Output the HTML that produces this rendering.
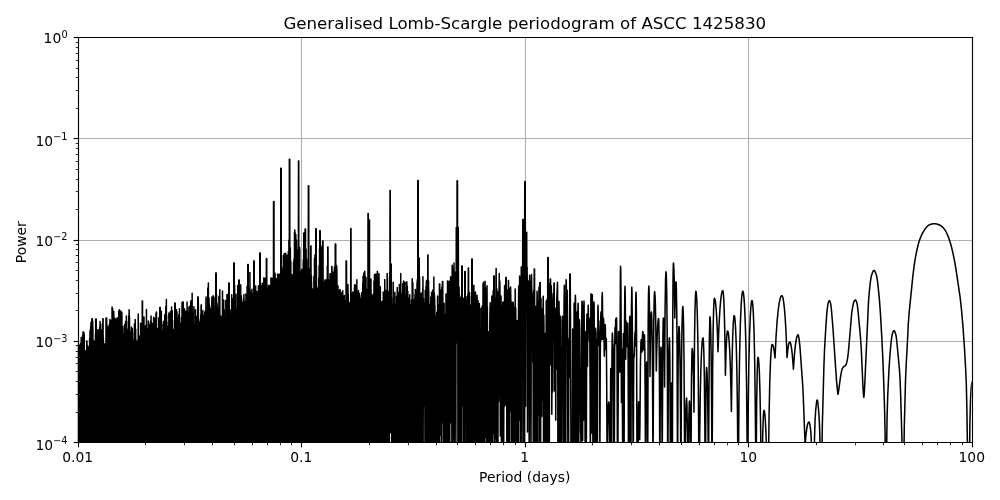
<!DOCTYPE html>
<html lang="en"><head><meta charset="utf-8"><title>Generalised Lomb-Scargle periodogram of ASCC 1425830</title>
<style>html,body{margin:0;padding:0;background:#fff;overflow:hidden}svg{display:block;font-family:"DejaVu Sans","Liberation Sans",sans-serif}</style></head>
<body>
<svg width="1000" height="500" viewBox="0 0 720 360" version="1.1">
 <defs>
  <style type="text/css">*{stroke-linejoin: round; stroke-linecap: butt}</style>
 </defs>
 <g id="figure_1">
  <g id="patch_1">
   <path d="M 0 360  L 720 360  L 720 0  L 0 0  z
" style="fill: #ffffff"/>
  </g>
  <g id="axes_1">
   <g id="patch_2">
    <path d="M 55.98 318.31  L 699.66 318.31  L 699.66 26.71  L 55.98 26.71  z
" style="fill: #ffffff"/>
   </g>
   <g id="matplotlib.axis_1">
    <g id="xtick_1">
     <g id="line2d_1">
      <path d="M 56.52 318.6  L 56.52 27 
" clip-path="url(#pcf3aa3bda9)" style="fill: none; stroke: #b0b0b0; stroke-width: 0.8; stroke-linecap: square"/>
     </g>
     <g id="line2d_2">
      <defs>
       <path id="m2a72259cfb" d="M 0 0  L 0 3.5 
" style="stroke: #000000; stroke-width: 0.8"/>
      </defs>
      <g>
       <use href="#m2a72259cfb" x="56.5200" y="318.6000" style="stroke: #000000; stroke-width: 0.8"/>
      </g>
     </g>
     <g id="text_1">
      <text style="font-size: 10px; font-family: 'DejaVu Sans', 'Liberation Sans', sans-serif; text-anchor: middle" x="55.98" y="332.910438">0.01</text>
     </g>
    </g>
    <g id="xtick_2">
     <g id="line2d_3">
      <path d="M 217.08 318.6  L 217.08 27 
" clip-path="url(#pcf3aa3bda9)" style="fill: none; stroke: #b0b0b0; stroke-width: 0.8; stroke-linecap: square"/>
     </g>
     <g id="line2d_4">
      <g>
       <use href="#m2a72259cfb" x="217.0800" y="318.6000" style="stroke: #000000; stroke-width: 0.8"/>
      </g>
     </g>
     <g id="text_2">
      <text style="font-size: 10px; font-family: 'DejaVu Sans', 'Liberation Sans', sans-serif; text-anchor: middle" x="216.9" y="332.910438">0.1</text>
     </g>
    </g>
    <g id="xtick_3">
     <g id="line2d_5">
      <path d="M 378.36 318.6  L 378.36 27 
" clip-path="url(#pcf3aa3bda9)" style="fill: none; stroke: #b0b0b0; stroke-width: 0.8; stroke-linecap: square"/>
     </g>
     <g id="line2d_6">
      <g>
       <use href="#m2a72259cfb" x="378.3600" y="318.6000" style="stroke: #000000; stroke-width: 0.8"/>
      </g>
     </g>
     <g id="text_3">
      <text style="font-size: 10px; font-family: 'DejaVu Sans', 'Liberation Sans', sans-serif; text-anchor: middle" x="377.82" y="332.910438">1</text>
     </g>
    </g>
    <g id="xtick_4">
     <g id="line2d_7">
      <path d="M 538.92 318.6  L 538.92 27 
" clip-path="url(#pcf3aa3bda9)" style="fill: none; stroke: #b0b0b0; stroke-width: 0.8; stroke-linecap: square"/>
     </g>
     <g id="line2d_8">
      <g>
       <use href="#m2a72259cfb" x="538.9200" y="318.6000" style="stroke: #000000; stroke-width: 0.8"/>
      </g>
     </g>
     <g id="text_4">
      <text style="font-size: 10px; font-family: 'DejaVu Sans', 'Liberation Sans', sans-serif; text-anchor: middle" x="538.74" y="332.910438">10</text>
     </g>
    </g>
    <g id="xtick_5">
     <g id="line2d_9">
      <path d="M 700.2 318.6  L 700.2 27 
" clip-path="url(#pcf3aa3bda9)" style="fill: none; stroke: #b0b0b0; stroke-width: 0.8; stroke-linecap: square"/>
     </g>
     <g id="line2d_10">
      <g>
       <use href="#m2a72259cfb" x="700.2000" y="318.6000" style="stroke: #000000; stroke-width: 0.8"/>
      </g>
     </g>
     <g id="text_5">
      <text style="font-size: 10px; font-family: 'DejaVu Sans', 'Liberation Sans', sans-serif; text-anchor: middle" x="699.66" y="332.910438">100</text>
     </g>
    </g>
    <g id="xtick_6">
     <g id="line2d_11">
      <defs>
       <path id="mbe10bcd216" d="M 0 0  L 0 2 
" style="stroke: #000000; stroke-width: 0.6"/>
      </defs>
      <g>
       <use href="#mbe10bcd216" x="104.7600" y="318.6000" style="stroke: #000000; stroke-width: 0.6"/>
      </g>
     </g>
    </g>
    <g id="xtick_7">
     <g id="line2d_12">
      <g>
       <use href="#mbe10bcd216" x="132.8400" y="318.6000" style="stroke: #000000; stroke-width: 0.6"/>
      </g>
     </g>
    </g>
    <g id="xtick_8">
     <g id="line2d_13">
      <g>
       <use href="#mbe10bcd216" x="153.0000" y="318.6000" style="stroke: #000000; stroke-width: 0.6"/>
      </g>
     </g>
    </g>
    <g id="xtick_9">
     <g id="line2d_14">
      <g>
       <use href="#mbe10bcd216" x="168.8400" y="318.6000" style="stroke: #000000; stroke-width: 0.6"/>
      </g>
     </g>
    </g>
    <g id="xtick_10">
     <g id="line2d_15">
      <g>
       <use href="#mbe10bcd216" x="181.8000" y="318.6000" style="stroke: #000000; stroke-width: 0.6"/>
      </g>
     </g>
    </g>
    <g id="xtick_11">
     <g id="line2d_16">
      <g>
       <use href="#mbe10bcd216" x="192.6000" y="318.6000" style="stroke: #000000; stroke-width: 0.6"/>
      </g>
     </g>
    </g>
    <g id="xtick_12">
     <g id="line2d_17">
      <g>
       <use href="#mbe10bcd216" x="201.9600" y="318.6000" style="stroke: #000000; stroke-width: 0.6"/>
      </g>
     </g>
    </g>
    <g id="xtick_13">
     <g id="line2d_18">
      <g>
       <use href="#mbe10bcd216" x="209.8800" y="318.6000" style="stroke: #000000; stroke-width: 0.6"/>
      </g>
     </g>
    </g>
    <g id="xtick_14">
     <g id="line2d_19">
      <g>
       <use href="#mbe10bcd216" x="266.0400" y="318.6000" style="stroke: #000000; stroke-width: 0.6"/>
      </g>
     </g>
    </g>
    <g id="xtick_15">
     <g id="line2d_20">
      <g>
       <use href="#mbe10bcd216" x="294.1200" y="318.6000" style="stroke: #000000; stroke-width: 0.6"/>
      </g>
     </g>
    </g>
    <g id="xtick_16">
     <g id="line2d_21">
      <g>
       <use href="#mbe10bcd216" x="314.2800" y="318.6000" style="stroke: #000000; stroke-width: 0.6"/>
      </g>
     </g>
    </g>
    <g id="xtick_17">
     <g id="line2d_22">
      <g>
       <use href="#mbe10bcd216" x="329.4000" y="318.6000" style="stroke: #000000; stroke-width: 0.6"/>
      </g>
     </g>
    </g>
    <g id="xtick_18">
     <g id="line2d_23">
      <g>
       <use href="#mbe10bcd216" x="342.3600" y="318.6000" style="stroke: #000000; stroke-width: 0.6"/>
      </g>
     </g>
    </g>
    <g id="xtick_19">
     <g id="line2d_24">
      <g>
       <use href="#mbe10bcd216" x="353.1600" y="318.6000" style="stroke: #000000; stroke-width: 0.6"/>
      </g>
     </g>
    </g>
    <g id="xtick_20">
     <g id="line2d_25">
      <g>
       <use href="#mbe10bcd216" x="362.5200" y="318.6000" style="stroke: #000000; stroke-width: 0.6"/>
      </g>
     </g>
    </g>
    <g id="xtick_21">
     <g id="line2d_26">
      <g>
       <use href="#mbe10bcd216" x="371.1600" y="318.6000" style="stroke: #000000; stroke-width: 0.6"/>
      </g>
     </g>
    </g>
    <g id="xtick_22">
     <g id="line2d_27">
      <g>
       <use href="#mbe10bcd216" x="426.6000" y="318.6000" style="stroke: #000000; stroke-width: 0.6"/>
      </g>
     </g>
    </g>
    <g id="xtick_23">
     <g id="line2d_28">
      <g>
       <use href="#mbe10bcd216" x="454.6800" y="318.6000" style="stroke: #000000; stroke-width: 0.6"/>
      </g>
     </g>
    </g>
    <g id="xtick_24">
     <g id="line2d_29">
      <g>
       <use href="#mbe10bcd216" x="474.8400" y="318.6000" style="stroke: #000000; stroke-width: 0.6"/>
      </g>
     </g>
    </g>
    <g id="xtick_25">
     <g id="line2d_30">
      <g>
       <use href="#mbe10bcd216" x="490.6800" y="318.6000" style="stroke: #000000; stroke-width: 0.6"/>
      </g>
     </g>
    </g>
    <g id="xtick_26">
     <g id="line2d_31">
      <g>
       <use href="#mbe10bcd216" x="503.6400" y="318.6000" style="stroke: #000000; stroke-width: 0.6"/>
      </g>
     </g>
    </g>
    <g id="xtick_27">
     <g id="line2d_32">
      <g>
       <use href="#mbe10bcd216" x="514.4400" y="318.6000" style="stroke: #000000; stroke-width: 0.6"/>
      </g>
     </g>
    </g>
    <g id="xtick_28">
     <g id="line2d_33">
      <g>
       <use href="#mbe10bcd216" x="523.8000" y="318.6000" style="stroke: #000000; stroke-width: 0.6"/>
      </g>
     </g>
    </g>
    <g id="xtick_29">
     <g id="line2d_34">
      <g>
       <use href="#mbe10bcd216" x="531.7200" y="318.6000" style="stroke: #000000; stroke-width: 0.6"/>
      </g>
     </g>
    </g>
    <g id="xtick_30">
     <g id="line2d_35">
      <g>
       <use href="#mbe10bcd216" x="587.8800" y="318.6000" style="stroke: #000000; stroke-width: 0.6"/>
      </g>
     </g>
    </g>
    <g id="xtick_31">
     <g id="line2d_36">
      <g>
       <use href="#mbe10bcd216" x="615.9600" y="318.6000" style="stroke: #000000; stroke-width: 0.6"/>
      </g>
     </g>
    </g>
    <g id="xtick_32">
     <g id="line2d_37">
      <g>
       <use href="#mbe10bcd216" x="636.1200" y="318.6000" style="stroke: #000000; stroke-width: 0.6"/>
      </g>
     </g>
    </g>
    <g id="xtick_33">
     <g id="line2d_38">
      <g>
       <use href="#mbe10bcd216" x="651.2400" y="318.6000" style="stroke: #000000; stroke-width: 0.6"/>
      </g>
     </g>
    </g>
    <g id="xtick_34">
     <g id="line2d_39">
      <g>
       <use href="#mbe10bcd216" x="664.2000" y="318.6000" style="stroke: #000000; stroke-width: 0.6"/>
      </g>
     </g>
    </g>
    <g id="xtick_35">
     <g id="line2d_40">
      <g>
       <use href="#mbe10bcd216" x="675.0000" y="318.6000" style="stroke: #000000; stroke-width: 0.6"/>
      </g>
     </g>
    </g>
    <g id="xtick_36">
     <g id="line2d_41">
      <g>
       <use href="#mbe10bcd216" x="684.3600" y="318.6000" style="stroke: #000000; stroke-width: 0.6"/>
      </g>
     </g>
    </g>
    <g id="xtick_37">
     <g id="line2d_42">
      <g>
       <use href="#mbe10bcd216" x="693.0000" y="318.6000" style="stroke: #000000; stroke-width: 0.6"/>
      </g>
     </g>
    </g>
    <g id="text_6">
     <text style="font-size: 10px; font-family: 'DejaVu Sans', 'Liberation Sans', sans-serif; text-anchor: middle" x="377.82" y="346.689">Period (days)</text>
    </g>
   </g>
   <g id="matplotlib.axis_2">
    <g id="ytick_1">
     <g id="line2d_43">
      <path d="M 56.52 318.6  L 700.2 318.6 
" clip-path="url(#pcf3aa3bda9)" style="fill: none; stroke: #b0b0b0; stroke-width: 0.8; stroke-linecap: square"/>
     </g>
     <g id="line2d_44">
      <defs>
       <path id="mbe35a04bd3" d="M 0 0  L -3.5 0 
" style="stroke: #000000; stroke-width: 0.8"/>
      </defs>
      <g>
       <use href="#mbe35a04bd3" x="56.5200" y="318.6000" style="stroke: #000000; stroke-width: 0.8"/>
      </g>
     </g>
     <g id="text_7">
      <!-- $\mathdefault{10^{-4}}$ -->
      <g transform="translate(25.48 323.711)">
       <text>
        <tspan x="0" y="-0.064063" style="font-size: 10px; font-family: 'DejaVu Sans'">1</tspan>
        <tspan x="6.362305" y="-0.064063" style="font-size: 10px; font-family: 'DejaVu Sans'">0</tspan>
        <tspan x="12.820312" y="-3.892188" style="font-size: 7px; font-family: 'DejaVu Sans'">−</tspan>
        <tspan x="18.685547" y="-3.892188" style="font-size: 7px; font-family: 'DejaVu Sans'">4</tspan>
       </text>
      </g>
     </g>
    </g>
    <g id="ytick_2">
     <g id="line2d_45">
      <path d="M 56.52 245.88  L 700.2 245.88 
" clip-path="url(#pcf3aa3bda9)" style="fill: none; stroke: #b0b0b0; stroke-width: 0.8; stroke-linecap: square"/>
     </g>
     <g id="line2d_46">
      <g>
       <use href="#mbe35a04bd3" x="56.5200" y="245.8800" style="stroke: #000000; stroke-width: 0.8"/>
      </g>
     </g>
     <g id="text_8">
      <!-- $\mathdefault{10^{-3}}$ -->
      <g transform="translate(25.48 250.811)">
       <text>
        <tspan x="0" y="-0.976562" style="font-size: 10px; font-family: 'DejaVu Sans'">1</tspan>
        <tspan x="6.362305" y="-0.976562" style="font-size: 10px; font-family: 'DejaVu Sans'">0</tspan>
        <tspan x="12.820312" y="-4.804688" style="font-size: 7px; font-family: 'DejaVu Sans'">−</tspan>
        <tspan x="18.685547" y="-4.804688" style="font-size: 7px; font-family: 'DejaVu Sans'">3</tspan>
       </text>
      </g>
     </g>
    </g>
    <g id="ytick_3">
     <g id="line2d_47">
      <path d="M 56.52 173.16  L 700.2 173.16 
" clip-path="url(#pcf3aa3bda9)" style="fill: none; stroke: #b0b0b0; stroke-width: 0.8; stroke-linecap: square"/>
     </g>
     <g id="line2d_48">
      <g>
       <use href="#mbe35a04bd3" x="56.5200" y="173.1600" style="stroke: #000000; stroke-width: 0.8"/>
      </g>
     </g>
     <g id="text_9">
      <!-- $\mathdefault{10^{-2}}$ -->
      <g transform="translate(25.48 177.911)">
       <text>
        <tspan x="0" y="-0.976562" style="font-size: 10px; font-family: 'DejaVu Sans'">1</tspan>
        <tspan x="6.362305" y="-0.976562" style="font-size: 10px; font-family: 'DejaVu Sans'">0</tspan>
        <tspan x="12.820312" y="-4.804688" style="font-size: 7px; font-family: 'DejaVu Sans'">−</tspan>
        <tspan x="18.685547" y="-4.804688" style="font-size: 7px; font-family: 'DejaVu Sans'">2</tspan>
       </text>
      </g>
     </g>
    </g>
    <g id="ytick_4">
     <g id="line2d_49">
      <path d="M 56.52 99.72  L 700.2 99.72 
" clip-path="url(#pcf3aa3bda9)" style="fill: none; stroke: #b0b0b0; stroke-width: 0.8; stroke-linecap: square"/>
     </g>
     <g id="line2d_50">
      <g>
       <use href="#mbe35a04bd3" x="56.5200" y="99.7200" style="stroke: #000000; stroke-width: 0.8"/>
      </g>
     </g>
     <g id="text_10">
      <!-- $\mathdefault{10^{-1}}$ -->
      <g transform="translate(25.48 105.011)">
       <text>
        <tspan x="0" y="-0.064063" style="font-size: 10px; font-family: 'DejaVu Sans'">1</tspan>
        <tspan x="6.362305" y="-0.064063" style="font-size: 10px; font-family: 'DejaVu Sans'">0</tspan>
        <tspan x="12.820312" y="-3.892188" style="font-size: 7px; font-family: 'DejaVu Sans'">−</tspan>
        <tspan x="18.685547" y="-3.892188" style="font-size: 7px; font-family: 'DejaVu Sans'">1</tspan>
       </text>
      </g>
     </g>
    </g>
    <g id="ytick_5">
     <g id="line2d_51">
      <path d="M 56.52 27  L 700.2 27 
" clip-path="url(#pcf3aa3bda9)" style="fill: none; stroke: #b0b0b0; stroke-width: 0.8; stroke-linecap: square"/>
     </g>
     <g id="line2d_52">
      <g>
       <use href="#mbe35a04bd3" x="56.5200" y="27.0000" style="stroke: #000000; stroke-width: 0.8"/>
      </g>
     </g>
     <g id="text_11">
      <!-- $\mathdefault{10^{0}}$ -->
      <g transform="translate(31.38 32.111)">
       <text>
        <tspan x="0" y="-0.976562" style="font-size: 10px; font-family: 'DejaVu Sans'">1</tspan>
        <tspan x="6.362305" y="-0.976562" style="font-size: 10px; font-family: 'DejaVu Sans'">0</tspan>
        <tspan x="12.820312" y="-4.804688" style="font-size: 7px; font-family: 'DejaVu Sans'">0</tspan>
       </text>
      </g>
     </g>
    </g>
    <g id="ytick_6">
     <g id="line2d_53">
      <defs>
       <path id="m8f42b12756" d="M 0 0  L -2 0 
" style="stroke: #000000; stroke-width: 0.6"/>
      </defs>
      <g>
       <use href="#m8f42b12756" x="56.5200" y="297.0000" style="stroke: #000000; stroke-width: 0.6"/>
      </g>
     </g>
    </g>
    <g id="ytick_7">
     <g id="line2d_54">
      <g>
       <use href="#m8f42b12756" x="56.5200" y="284.0400" style="stroke: #000000; stroke-width: 0.6"/>
      </g>
     </g>
    </g>
    <g id="ytick_8">
     <g id="line2d_55">
      <g>
       <use href="#m8f42b12756" x="56.5200" y="274.6800" style="stroke: #000000; stroke-width: 0.6"/>
      </g>
     </g>
    </g>
    <g id="ytick_9">
     <g id="line2d_56">
      <g>
       <use href="#m8f42b12756" x="56.5200" y="267.4800" style="stroke: #000000; stroke-width: 0.6"/>
      </g>
     </g>
    </g>
    <g id="ytick_10">
     <g id="line2d_57">
      <g>
       <use href="#m8f42b12756" x="56.5200" y="261.7200" style="stroke: #000000; stroke-width: 0.6"/>
      </g>
     </g>
    </g>
    <g id="ytick_11">
     <g id="line2d_58">
      <g>
       <use href="#m8f42b12756" x="56.5200" y="257.4000" style="stroke: #000000; stroke-width: 0.6"/>
      </g>
     </g>
    </g>
    <g id="ytick_12">
     <g id="line2d_59">
      <g>
       <use href="#m8f42b12756" x="56.5200" y="253.0800" style="stroke: #000000; stroke-width: 0.6"/>
      </g>
     </g>
    </g>
    <g id="ytick_13">
     <g id="line2d_60">
      <g>
       <use href="#m8f42b12756" x="56.5200" y="248.7600" style="stroke: #000000; stroke-width: 0.6"/>
      </g>
     </g>
    </g>
    <g id="ytick_14">
     <g id="line2d_61">
      <g>
       <use href="#m8f42b12756" x="56.5200" y="223.5600" style="stroke: #000000; stroke-width: 0.6"/>
      </g>
     </g>
    </g>
    <g id="ytick_15">
     <g id="line2d_62">
      <g>
       <use href="#m8f42b12756" x="56.5200" y="211.3200" style="stroke: #000000; stroke-width: 0.6"/>
      </g>
     </g>
    </g>
    <g id="ytick_16">
     <g id="line2d_63">
      <g>
       <use href="#m8f42b12756" x="56.5200" y="201.9600" style="stroke: #000000; stroke-width: 0.6"/>
      </g>
     </g>
    </g>
    <g id="ytick_17">
     <g id="line2d_64">
      <g>
       <use href="#m8f42b12756" x="56.5200" y="194.7600" style="stroke: #000000; stroke-width: 0.6"/>
      </g>
     </g>
    </g>
    <g id="ytick_18">
     <g id="line2d_65">
      <g>
       <use href="#m8f42b12756" x="56.5200" y="189.0000" style="stroke: #000000; stroke-width: 0.6"/>
      </g>
     </g>
    </g>
    <g id="ytick_19">
     <g id="line2d_66">
      <g>
       <use href="#m8f42b12756" x="56.5200" y="183.9600" style="stroke: #000000; stroke-width: 0.6"/>
      </g>
     </g>
    </g>
    <g id="ytick_20">
     <g id="line2d_67">
      <g>
       <use href="#m8f42b12756" x="56.5200" y="179.6400" style="stroke: #000000; stroke-width: 0.6"/>
      </g>
     </g>
    </g>
    <g id="ytick_21">
     <g id="line2d_68">
      <g>
       <use href="#m8f42b12756" x="56.5200" y="176.0400" style="stroke: #000000; stroke-width: 0.6"/>
      </g>
     </g>
    </g>
    <g id="ytick_22">
     <g id="line2d_69">
      <g>
       <use href="#m8f42b12756" x="56.5200" y="150.8400" style="stroke: #000000; stroke-width: 0.6"/>
      </g>
     </g>
    </g>
    <g id="ytick_23">
     <g id="line2d_70">
      <g>
       <use href="#m8f42b12756" x="56.5200" y="137.8800" style="stroke: #000000; stroke-width: 0.6"/>
      </g>
     </g>
    </g>
    <g id="ytick_24">
     <g id="line2d_71">
      <g>
       <use href="#m8f42b12756" x="56.5200" y="129.2400" style="stroke: #000000; stroke-width: 0.6"/>
      </g>
     </g>
    </g>
    <g id="ytick_25">
     <g id="line2d_72">
      <g>
       <use href="#m8f42b12756" x="56.5200" y="122.0400" style="stroke: #000000; stroke-width: 0.6"/>
      </g>
     </g>
    </g>
    <g id="ytick_26">
     <g id="line2d_73">
      <g>
       <use href="#m8f42b12756" x="56.5200" y="116.2800" style="stroke: #000000; stroke-width: 0.6"/>
      </g>
     </g>
    </g>
    <g id="ytick_27">
     <g id="line2d_74">
      <g>
       <use href="#m8f42b12756" x="56.5200" y="111.2400" style="stroke: #000000; stroke-width: 0.6"/>
      </g>
     </g>
    </g>
    <g id="ytick_28">
     <g id="line2d_75">
      <g>
       <use href="#m8f42b12756" x="56.5200" y="106.9200" style="stroke: #000000; stroke-width: 0.6"/>
      </g>
     </g>
    </g>
    <g id="ytick_29">
     <g id="line2d_76">
      <g>
       <use href="#m8f42b12756" x="56.5200" y="103.3200" style="stroke: #000000; stroke-width: 0.6"/>
      </g>
     </g>
    </g>
    <g id="ytick_30">
     <g id="line2d_77">
      <g>
       <use href="#m8f42b12756" x="56.5200" y="78.1200" style="stroke: #000000; stroke-width: 0.6"/>
      </g>
     </g>
    </g>
    <g id="ytick_31">
     <g id="line2d_78">
      <g>
       <use href="#m8f42b12756" x="56.5200" y="65.1600" style="stroke: #000000; stroke-width: 0.6"/>
      </g>
     </g>
    </g>
    <g id="ytick_32">
     <g id="line2d_79">
      <g>
       <use href="#m8f42b12756" x="56.5200" y="55.8000" style="stroke: #000000; stroke-width: 0.6"/>
      </g>
     </g>
    </g>
    <g id="ytick_33">
     <g id="line2d_80">
      <g>
       <use href="#m8f42b12756" x="56.5200" y="49.3200" style="stroke: #000000; stroke-width: 0.6"/>
      </g>
     </g>
    </g>
    <g id="ytick_34">
     <g id="line2d_81">
      <g>
       <use href="#m8f42b12756" x="56.5200" y="43.5600" style="stroke: #000000; stroke-width: 0.6"/>
      </g>
     </g>
    </g>
    <g id="ytick_35">
     <g id="line2d_82">
      <g>
       <use href="#m8f42b12756" x="56.5200" y="38.5200" style="stroke: #000000; stroke-width: 0.6"/>
      </g>
     </g>
    </g>
    <g id="ytick_36">
     <g id="line2d_83">
      <g>
       <use href="#m8f42b12756" x="56.5200" y="34.2000" style="stroke: #000000; stroke-width: 0.6"/>
      </g>
     </g>
    </g>
    <g id="ytick_37">
     <g id="line2d_84">
      <g>
       <use href="#m8f42b12756" x="56.5200" y="30.6000" style="stroke: #000000; stroke-width: 0.6"/>
      </g>
     </g>
    </g>
    <g id="text_12">
     <text style="font-size: 10px; font-family: 'DejaVu Sans', 'Liberation Sans', sans-serif; text-anchor: middle" x="18.800" y="174.412" transform="rotate(-90 18.800 174.412)">Power</text>
    </g>
   </g>
   <g id="line2d_85">
    <path d="M 55.98 272.23  L 55.99 338.4  L 56.03 248.93  L 56.16 263.73  L 56.17 338.4  L 56.32 252.96  L 56.34 285.49  L 56.35 338.4  L 56.48 248.76  L 56.52 338.4  L 56.64 251.63  L 56.7 338.4  L 56.73 249.64  L 56.88 299  L 56.88 272.08  L 56.89 338.4  L 57.03 248.59  L 57.08 338.4  L 57.2 248.97  L 57.24 292.97  L 57.24 338.4  L 57.28 251.66  L 57.42 264.61  L 57.42 338.4  L 57.56 252.84  L 57.61 338.4  L 57.76 248.42  L 57.78 338.4  L 57.92 250.76  L 57.96 252.43  L 57.97 338.4  L 58.01 247.29  L 58.14 253.94  L 58.16 338.4  L 58.23 247.92  L 58.32 258.98  L 58.32 258.24  L 58.33 338.4  L 58.48 243.07  L 58.51 338.4  L 58.56 247.82  L 58.68 276.72  L 58.68 272.14  L 58.68 338.4  L 58.69 244.98  L 58.86 259.21  L 58.86 257.35  L 58.87 338.4  L 58.97 245.31  L 59.04 281.62  L 59.05 338.4  L 59.12 243.07  L 59.22 282.96  L 59.22 263.18  L 59.23 338.4  L 59.35 250.64  L 59.4 289.58  L 59.4 338.4  L 59.48 241.5  L 59.58 338.4  L 59.75 239.04  L 59.76 252.32  L 59.78 338.4  L 59.89 240.02  L 59.94 266.92  L 59.94 338.4  L 59.95 239.51  L 60.12 274.43  L 60.12 338.4  L 60.24 239.04  L 60.3 249.75  L 60.32 338.4  L 60.47 239.79  L 60.48 266.31  L 60.5 338.4  L 60.64 240.91  L 60.67 241.77  L 60.68 338.4  L 60.84 268.36  L 60.84 282.22  L 60.85 338.4  L 60.92 252.6  L 61.02 338.4  L 61.07 252.72  L 61.2 312.38  L 61.2 299.08  L 61.23 254.47  L 61.24 338.4  L 61.38 263.78  L 61.38 338.4  L 61.38 253.88  L 61.56 338.4  L 61.57 252.72  L 61.74 256.2  L 61.75 338.4  L 61.79 253.55  L 61.92 281.13  L 61.94 338.4  L 62.03 256.75  L 62.1 268.96  L 62.1 252.37  L 62.11 338.4  L 62.28 309.65  L 62.28 338.4  L 62.44 245.52  L 62.46 296.61  L 62.46 338.4  L 62.6 245.52  L 62.64 338.4  L 62.81 248.55  L 62.82 276.67  L 62.82 338.4  L 62.98 252.63  L 63 338.4  L 63.05 249.84  L 63.18 338.4  L 63.18 309.05  L 63.19 254.47  L 63.21 338.4  L 63.36 303.88  L 63.37 338.4  L 63.45 255.54  L 63.54 263.88  L 63.58 338.4  L 63.68 250.74  L 63.72 266.55  L 63.74 338.4  L 63.85 249.84  L 63.91 250.53  L 63.91 338.4  L 64.08 249.07  L 64.09 338.4  L 64.26 254.91  L 64.29 338.4  L 64.32 250.82  L 64.44 259.8  L 64.44 338.4  L 64.56 243.62  L 64.62 252.37  L 64.62 338.4  L 64.8 238.49  L 64.8 265.63  L 64.81 338.4  L 64.94 237.6  L 64.98 246.32  L 64.99 338.4  L 65.09 242.12  L 65.16 247.08  L 65.18 338.4  L 65.31 234.95  L 65.34 286.34  L 65.41 338.4  L 65.5 232.27  L 65.52 247.68  L 65.52 338.4  L 65.62 234.53  L 65.7 248.09  L 65.7 247.65  L 65.71 338.4  L 65.72 235.8  L 65.88 245.88  L 65.91 232.27  L 65.92 338.4  L 66.06 250.31  L 66.06 338.4  L 66.15 229.54  L 66.29 338.4  L 66.32 233.9  L 66.42 245.86  L 66.43 338.4  L 66.54 229.54  L 66.6 272.55  L 66.61 338.4  L 66.74 231.06  L 66.78 240.29  L 66.83 338.4  L 66.87 235.91  L 66.96 250.82  L 66.96 338.4  L 67.03 245.78  L 67.14 297.83  L 67.14 261.58  L 67.15 249.73  L 67.16 338.4  L 67.32 331.42  L 67.32 338.4  L 67.41 245.52  L 67.5 263.6  L 67.5 259.79  L 67.5 338.4  L 67.66 252.06  L 67.68 300.95  L 67.68 338.4  L 67.85 250.08  L 67.86 296.65  L 67.86 338.4  L 68.01 245.52  L 68.04 259.04  L 68.05 338.4  L 68.2 251.09  L 68.22 273.14  L 68.23 338.4  L 68.29 245.52  L 68.4 261.3  L 68.4 259.74  L 68.41 338.4  L 68.55 245.02  L 68.58 288.42  L 68.6 338.4  L 68.73 241.04  L 68.76 338.4  L 68.89 229.68  L 68.94 255.06  L 68.94 338.4  L 69.01 231.95  L 69.12 265.35  L 69.12 242.65  L 69.14 338.4  L 69.27 229.68  L 69.3 246.69  L 69.31 338.4  L 69.34 234.97  L 69.48 338.4  L 69.56 244.29  L 69.66 282.94  L 69.66 259.26  L 69.66 338.4  L 69.7 238.54  L 69.84 338.4  L 69.94 237.6  L 70.02 279.06  L 70.04 338.4  L 70.07 237.6  L 70.2 338.4  L 70.3 243.01  L 70.38 338.4  L 70.46 242.03  L 70.56 253.23  L 70.56 251.26  L 70.57 338.4  L 70.65 237.6  L 70.74 270.1  L 70.75 338.4  L 70.75 238.99  L 70.92 292.07  L 70.92 338.4  L 71.1 237.6  L 71.1 244.65  L 71.11 338.4  L 71.28 258.26  L 71.28 338.4  L 71.45 238.88  L 71.46 338.4  L 71.6 239.76  L 71.64 253.22  L 71.67 338.4  L 71.76 235.42  L 71.82 242.08  L 71.83 338.4  L 71.98 234.43  L 72 259.12  L 72 338.4  L 72.05 231.41  L 72.18 247.64  L 72.18 245.07  L 72.19 338.4  L 72.34 238.7  L 72.36 338.4  L 72.47 233.37  L 72.54 338.4  L 72.61 237.6  L 72.72 267.96  L 72.72 251.52  L 72.76 338.4  L 72.76 238.69  L 72.9 272.58  L 72.9 271.33  L 72.92 338.4  L 73 241.58  L 73.08 256.12  L 73.08 253.36  L 73.08 338.4  L 73.25 237.6  L 73.26 255.97  L 73.27 338.4  L 73.34 238.81  L 73.45 338.4  L 73.59 242.45  L 73.62 278.82  L 73.62 338.4  L 73.67 240.44  L 73.8 246.2  L 73.83 338.4  L 73.96 232.87  L 73.98 246.05  L 74.01 338.4  L 74.07 229.54  L 74.16 338.4  L 74.23 229.54  L 74.36 338.4  L 74.39 243.02  L 74.52 267.91  L 74.52 250.32  L 74.55 338.4  L 74.7 276.16  L 74.71 338.4  L 74.71 251.69  L 74.88 260.87  L 74.88 338.4  L 75.02 247.68  L 75.06 338.4  L 75.09 250.62  L 75.24 266.46  L 75.25 338.4  L 75.3 247.68  L 75.43 338.4  L 75.51 255.79  L 75.6 265.23  L 75.61 338.4  L 75.67 247.68  L 75.78 267.02  L 75.78 261.06  L 75.79 338.4  L 75.9 248.61  L 75.96 262.3  L 75.97 338.4  L 76.08 248.23  L 76.14 273.85  L 76.16 338.4  L 76.33 228.96  L 76.36 338.4  L 76.5 265  L 76.51 338.4  L 76.56 232.19  L 76.68 282.42  L 76.73 338.4  L 76.82 228.96  L 76.86 338.4  L 76.9 233.86  L 77.06 338.4  L 77.08 237.69  L 77.22 276.35  L 77.22 271.89  L 77.22 338.4  L 77.31 239.67  L 77.4 273.91  L 77.4 255.46  L 77.41 338.4  L 77.53 235.44  L 77.58 268.83  L 77.59 338.4  L 77.73 235.44  L 77.76 250.43  L 77.76 338.4  L 77.85 241.67  L 77.94 253.82  L 77.94 253.76  L 77.96 338.4  L 78.08 236.86  L 78.13 338.4  L 78.15 245.02  L 78.3 283.15  L 78.3 281.04  L 78.32 338.4  L 78.39 242.79  L 78.48 262.16  L 78.48 338.4  L 78.56 234.15  L 78.69 338.4  L 78.76 234.03  L 78.88 338.4  L 78.91 233.08  L 79.02 272.77  L 79.02 265.51  L 79.04 338.4  L 79.11 230.02  L 79.21 338.4  L 79.36 235.31  L 79.38 296.28  L 79.38 338.4  L 79.49 230.35  L 79.56 255.22  L 79.57 338.4  L 79.58 241.96  L 79.74 338.4  L 79.84 246.2  L 79.92 268.05  L 79.92 338.4  L 79.93 231.02  L 80.1 338.4  L 80.24 244.77  L 80.28 269.33  L 80.29 338.4  L 80.42 243  L 80.46 275.46  L 80.48 338.4  L 80.61 231.7  L 80.66 338.4  L 80.68 221.05  L 80.82 276.91  L 80.82 276.33  L 80.84 338.4  L 80.94 233.97  L 81 253.15  L 81 338.4  L 81.09 222.2  L 81.19 338.4  L 81.31 230.29  L 81.36 338.4  L 81.44 225.21  L 81.54 338.4  L 81.72 224.21  L 81.9 224.21  L 81.97 338.4  L 82.08 259.55  L 82.09 338.4  L 82.17 228.52  L 82.26 338.4  L 82.27 236.33  L 82.44 315.62  L 82.46 244.01  L 82.46 338.4  L 82.62 275.46  L 82.62 285.53  L 82.63 338.4  L 82.64 235.23  L 82.8 283.21  L 82.8 338.4  L 82.85 241.27  L 82.99 338.4  L 83.1 248.89  L 83.16 264.9  L 83.17 338.4  L 83.2 229.57  L 83.34 272.21  L 83.34 255.56  L 83.34 230.13  L 83.35 338.4  L 83.52 253.32  L 83.52 257.72  L 83.54 338.4  L 83.64 234.07  L 83.7 338.4  L 83.78 240.18  L 83.88 338.4  L 83.89 240.94  L 84.06 290.72  L 84.09 338.4  L 84.16 234.56  L 84.25 338.4  L 84.42 228.76  L 84.42 233.87  L 84.43 338.4  L 84.48 232.15  L 84.61 338.4  L 84.71 241.62  L 84.78 282.71  L 84.78 338.4  L 84.87 229.42  L 84.96 338.4  L 85.14 334.65  L 85.14 312.35  L 85.14 338.4  L 85.31 248.87  L 85.32 338.4  L 85.4 246.43  L 85.5 338.12  L 85.5 223.92  L 85.86 223.92  L 85.86 338.4  L 85.99 222.94  L 86.04 272.39  L 86.04 338.4  L 86.1 242.68  L 86.22 338.4  L 86.35 230.4  L 86.4 338.4  L 86.47 228.93  L 86.58 338.4  L 86.62 250.21  L 86.77 338.4  L 86.78 250.06  L 86.94 318.53  L 86.94 338.4  L 87.1 223.95  L 87.13 338.4  L 87.22 228.74  L 87.31 338.4  L 87.38 225.86  L 87.5 338.4  L 87.62 245.9  L 87.66 293.2  L 87.66 338.4  L 87.76 225  L 87.86 338.4  L 87.96 236.68  L 88.02 280.59  L 88.02 338.4  L 88.17 248.54  L 88.2 295.46  L 88.2 338.4  L 88.24 236.85  L 88.39 338.4  L 88.43 235.31  L 88.56 261.69  L 88.56 338.4  L 88.63 245.18  L 88.74 338.4  L 88.75 253.2  L 88.92 286.06  L 88.92 338.4  L 89.01 241.34  L 89.11 338.4  L 89.27 242.26  L 89.29 338.4  L 89.41 240.5  L 89.47 338.4  L 89.48 249.15  L 89.65 338.4  L 89.7 233.73  L 89.82 338.4  L 89.99 255.88  L 90.02 338.4  L 90.14 237.77  L 90.18 338.4  L 90.18 255.29  L 90.36 304.23  L 90.36 286.37  L 90.37 338.4  L 90.43 231.41  L 90.55 338.4  L 90.58 253.04  L 90.72 302.68  L 90.72 338.4  L 90.81 238.77  L 90.9 265.02  L 90.9 263.96  L 90.9 338.4  L 90.99 227.53  L 91.1 338.4  L 91.15 256.46  L 91.26 315.8  L 91.27 247.35  L 91.28 338.4  L 91.44 338.4  L 91.5 242.42  L 91.62 338.4  L 91.7 246.6  L 91.81 338.4  L 91.86 237.33  L 91.99 338.4  L 92.14 251.66  L 92.17 338.4  L 92.26 245.06  L 92.34 263.66  L 92.35 338.4  L 92.44 231.36  L 92.52 338.4  L 92.67 227.35  L 92.7 267.85  L 92.7 338.4  L 92.85 247.26  L 92.88 274.97  L 92.88 338.4  L 92.96 222.98  L 93.06 227.81  L 93.24 227.81  L 93.43 338.4  L 93.54 239.45  L 93.6 338.4  L 93.73 238.89  L 93.8 338.4  L 93.92 248.22  L 93.96 285.63  L 93.96 338.4  L 94.12 242.1  L 94.14 273.2  L 94.14 338.4  L 94.19 250.65  L 94.32 256.54  L 94.33 338.4  L 94.48 242.74  L 94.5 255.73  L 94.52 338.4  L 94.62 235.49  L 94.68 338.4  L 94.71 256.44  L 94.86 338.4  L 95.03 258.2  L 95.04 338.4  L 95.21 241.49  L 95.22 261.36  L 95.25 338.4  L 95.27 236.68  L 95.4 276.99  L 95.4 338.4  L 95.58 258.4  L 95.58 338.4  L 95.73 248.9  L 95.76 295.4  L 95.76 338.4  L 95.85 244.81  L 95.94 254.98  L 95.94 338.4  L 95.95 249.76  L 96.12 338.4  L 96.13 246.65  L 96.3 300.23  L 96.3 296.35  L 96.31 248.18  L 96.31 338.4  L 96.48 262.69  L 96.48 262.93  L 96.49 338.4  L 96.64 239.74  L 96.66 338.4  L 96.78 233.31  L 96.87 338.4  L 96.94 236.78  L 97.02 265.58  L 97.03 338.4  L 97.16 253.38  L 97.2 291.06  L 97.22 338.4  L 97.35 229.98  L 97.38 338.4  L 97.54 239.45  L 97.56 253.77  L 97.57 338.4  L 97.67 236.9  L 97.74 338.4  L 97.81 244.17  L 97.92 338.4  L 98.02 251.6  L 98.1 338.4  L 98.23 245.62  L 98.28 338.4  L 98.33 245.76  L 98.46 338.4  L 98.6 255.7  L 98.66 338.4  L 98.7 250.13  L 98.82 258.79  L 98.82 251.33  L 98.83 338.4  L 98.9 245.72  L 99 338.4  L 99.17 263.79  L 99.18 298.45  L 99.19 338.4  L 99.35 250.13  L 99.37 338.4  L 99.52 226.01  L 99.54 257.62  L 99.55 338.4  L 99.67 232.34  L 99.73 338.4  L 99.78 243.87  L 99.93 338.4  L 100.04 242.14  L 100.08 259.41  L 100.09 338.4  L 100.26 248.49  L 100.28 338.4  L 100.29 245.82  L 100.44 296.68  L 100.44 290.92  L 100.44 338.4  L 100.58 246.81  L 100.63 338.4  L 100.72 241.89  L 100.8 338.4  L 100.83 252.24  L 100.99 338.4  L 101.15 242.62  L 101.16 338.4  L 101.33 232.81  L 101.34 288  L 101.34 338.4  L 101.36 242.44  L 101.52 279.07  L 101.52 277.97  L 101.54 338.4  L 101.67 234.8  L 101.7 292.2  L 101.71 338.4  L 101.79 248.61  L 101.88 338.4  L 101.92 242.38  L 102.06 251.75  L 102.09 338.4  L 102.17 235.07  L 102.24 338.4  L 102.42 216.72  L 102.6 216.72  L 102.71 338.4  L 102.78 312.22  L 102.81 338.4  L 102.89 228.18  L 102.97 338.4  L 103.14 255.95  L 103.14 304.59  L 103.14 338.4  L 103.16 243.97  L 103.32 338.4  L 103.41 249.5  L 103.5 338.4  L 103.66 228.26  L 103.68 249.1  L 103.68 338.4  L 103.69 243.62  L 103.86 303.37  L 103.89 338.4  L 103.99 248.28  L 104.04 298.11  L 104.04 338.4  L 104.15 251.94  L 104.22 276.57  L 104.22 338.4  L 104.37 238.78  L 104.4 285.79  L 104.4 338.4  L 104.43 247.17  L 104.58 290.8  L 104.58 278.13  L 104.59 253.04  L 104.6 338.4  L 104.76 262.33  L 104.76 270.4  L 104.76 338.4  L 104.77 234.52  L 104.94 338.4  L 104.95 262.31  L 105.12 284.33  L 105.12 277.79  L 105.13 338.4  L 105.24 235.01  L 105.3 250.05  L 105.32 338.4  L 105.45 222.79  L 105.48 338.4  L 105.5 233.97  L 105.66 338.4  L 105.73 241.46  L 105.84 338.4  L 105.99 248.16  L 106.02 275.74  L 106.03 338.4  L 106.15 238.72  L 106.2 290.67  L 106.21 338.4  L 106.28 237.36  L 106.38 267.65  L 106.39 338.4  L 106.4 236.5  L 106.56 275.48  L 106.56 270.38  L 106.57 338.4  L 106.62 246.92  L 106.74 298.18  L 106.74 338.4  L 106.83 231.2  L 106.92 267.37  L 106.94 338.4  L 106.99 239.73  L 107.1 338.4  L 107.27 233.35  L 107.28 292.3  L 107.32 338.4  L 107.35 234.46  L 107.47 338.4  L 107.6 240.91  L 107.64 251.64  L 107.65 338.4  L 107.75 236.09  L 107.84 338.4  L 107.89 247.36  L 108 269.28  L 108 263.29  L 108.01 338.4  L 108.02 250.45  L 108.18 253.68  L 108.2 338.4  L 108.34 248.66  L 108.36 338.4  L 108.45 231.21  L 108.54 338.4  L 108.58 239.26  L 108.72 338.4  L 108.76 227.47  L 108.9 241.96  L 108.9 231.95  L 108.93 338.4  L 109.08 274.85  L 109.09 338.4  L 109.13 232.7  L 109.31 338.4  L 109.39 233.38  L 109.44 257.27  L 109.46 338.4  L 109.55 244.25  L 109.62 274.63  L 109.66 338.4  L 109.76 241.37  L 109.8 338.4  L 109.88 237.56  L 109.98 253.43  L 110 338.4  L 110.11 232.75  L 110.16 283.82  L 110.17 338.4  L 110.19 250.59  L 110.34 271.31  L 110.35 338.4  L 110.47 247.15  L 110.52 338.4  L 110.61 228.43  L 110.7 232.14  L 110.71 338.4  L 110.88 252.65  L 110.88 261.91  L 110.88 338.4  L 110.9 232.73  L 111.06 283.55  L 111.06 260.98  L 111.07 338.4  L 111.08 246.64  L 111.24 298.34  L 111.25 338.4  L 111.32 241.06  L 111.45 338.4  L 111.53 229.16  L 111.61 338.4  L 111.75 241.71  L 111.79 338.4  L 111.84 245.28  L 111.96 249.76  L 111.97 241.22  L 111.97 338.4  L 112.14 299.69  L 112.15 338.4  L 112.32 225.57  L 112.36 338.4  L 112.5 277.14  L 112.5 300.45  L 112.51 338.4  L 112.51 234.24  L 112.68 254.47  L 112.68 252.52  L 112.69 224.68  L 112.7 338.4  L 112.86 268  L 112.86 338.4  L 112.88 244.72  L 113.04 283.82  L 113.05 250.61  L 113.06 338.4  L 113.23 241.8  L 113.24 338.4  L 113.4 279.17  L 113.4 297.72  L 113.4 338.4  L 113.46 236.51  L 113.58 288  L 113.58 267.62  L 113.58 238.93  L 113.59 338.4  L 113.76 260.68  L 113.76 261.1  L 113.76 338.4  L 113.93 254.61  L 113.94 269.58  L 113.96 338.4  L 114.04 240.09  L 114.12 267.41  L 114.12 259.33  L 114.13 338.4  L 114.28 249.1  L 114.32 338.4  L 114.33 228.74  L 114.48 271.59  L 114.5 338.4  L 114.65 238.5  L 114.66 264.84  L 114.67 338.4  L 114.8 245.37  L 114.84 260.54  L 114.85 338.4  L 115.02 221.33  L 115.38 221.33  L 115.38 338.4  L 115.48 227.84  L 115.57 338.4  L 115.64 227.53  L 115.74 338.4  L 115.77 261.8  L 115.92 302.79  L 115.92 297.8  L 115.93 338.4  L 116.04 235.45  L 116.1 244.54  L 116.11 338.4  L 116.15 224.04  L 116.29 338.4  L 116.35 257.18  L 116.46 292.13  L 116.46 338.4  L 116.57 245.84  L 116.65 338.4  L 116.74 240.4  L 116.82 338.4  L 116.92 238.44  L 117 254.9  L 117.04 338.4  L 117.15 243.88  L 117.18 257.74  L 117.2 338.4  L 117.28 246.58  L 117.36 277.33  L 117.37 338.4  L 117.39 233.58  L 117.54 273.83  L 117.54 268.75  L 117.61 338.4  L 117.68 231.45  L 117.72 300.35  L 117.72 338.4  L 117.77 234.66  L 117.9 338.4  L 118.06 236.72  L 118.11 338.4  L 118.24 245.27  L 118.26 279.72  L 118.27 338.4  L 118.39 231.11  L 118.45 338.4  L 118.61 226.62  L 118.62 291.95  L 118.64 338.4  L 118.78 230.45  L 118.81 338.4  L 118.93 227.08  L 118.98 260.05  L 118.99 338.4  L 119.02 245.25  L 119.16 278.6  L 119.21 338.4  L 119.28 240.9  L 119.34 320.07  L 119.34 220.75  L 119.7 220.75  L 119.73 338.4  L 119.77 215.58  L 119.88 266.63  L 119.88 265.14  L 119.9 338.4  L 119.96 226.93  L 120.07 338.4  L 120.19 231.81  L 120.25 338.4  L 120.34 235.56  L 120.43 338.4  L 120.53 248.28  L 120.6 338.4  L 120.68 241.32  L 120.78 338.4  L 120.84 236.81  L 120.97 338.4  L 121.04 235.07  L 121.15 338.4  L 121.21 245.42  L 121.32 275.72  L 121.32 272.99  L 121.34 338.4  L 121.37 234.95  L 121.53 338.4  L 121.57 225.36  L 121.68 338.4  L 121.69 234.23  L 121.86 325.49  L 121.9 239.11  L 121.91 338.4  L 122.04 316.41  L 122.05 338.4  L 122.13 227.21  L 122.22 338.4  L 122.37 236.85  L 122.41 338.4  L 122.53 250.4  L 122.58 338.4  L 122.71 224.33  L 122.77 338.4  L 122.84 228.49  L 122.94 338.4  L 123.02 238.52  L 123.16 338.4  L 123.17 227.52  L 123.3 279.28  L 123.3 269.19  L 123.31 235.41  L 123.32 338.4  L 123.48 338.4  L 123.54 221.12  L 123.66 338.4  L 123.82 232.29  L 123.86 338.4  L 124 223.68  L 124.02 287.81  L 124.02 338.4  L 124.11 253.37  L 124.23 338.4  L 124.24 230.76  L 124.38 338.4  L 124.55 248.28  L 124.57 338.4  L 124.61 240.4  L 124.74 266.46  L 124.74 257.18  L 124.77 245.69  L 124.78 338.4  L 124.92 326.68  L 124.94 338.4  L 125.01 250.55  L 125.1 265.17  L 125.1 338.4  L 125.2 244.1  L 125.28 237.13  L 125.31 338.4  L 125.46 286.38  L 125.47 338.4  L 125.48 255.74  L 125.64 257.57  L 125.67 338.4  L 125.72 236.62  L 125.82 271.63  L 125.82 218.16  L 126.18 218.16  L 126.19 338.4  L 126.29 232.11  L 126.36 264.22  L 126.38 338.4  L 126.39 235.1  L 126.6 338.4  L 126.64 239.55  L 126.72 338.4  L 126.81 241.02  L 126.9 274.14  L 126.91 338.4  L 126.98 222.89  L 127.09 338.4  L 127.12 230.11  L 127.26 285.62  L 127.26 282.88  L 127.27 338.4  L 127.42 224.43  L 127.47 254.56  L 127.47 338.4  L 127.62 258.43  L 127.62 261.68  L 127.62 338.4  L 127.79 234.57  L 127.8 246.17  L 127.81 338.4  L 127.98 293.33  L 128.01 233.91  L 128.03 338.4  L 128.16 321.28  L 128.16 335.76  L 128.16 338.4  L 128.31 228.27  L 128.37 338.4  L 128.38 231.35  L 128.52 249.87  L 128.52 244.54  L 128.53 338.4  L 128.67 226.56  L 128.7 256.34  L 128.72 338.4  L 128.84 241.14  L 128.89 338.4  L 128.93 233.29  L 129.06 267.31  L 129.06 266.44  L 129.08 338.4  L 129.19 222.36  L 129.25 338.4  L 129.39 240.33  L 129.42 338.4  L 129.44 236.19  L 129.6 338.4  L 129.72 237.39  L 129.78 338.4  L 129.93 232.97  L 129.96 267.74  L 129.97 338.4  L 130.12 239.9  L 130.14 291.17  L 130.14 338.4  L 130.31 245  L 130.32 257.65  L 130.33 338.4  L 130.36 233.73  L 130.5 338.4  L 130.64 228.41  L 130.71 338.4  L 130.86 303.76  L 130.86 308.33  L 130.87 338.4  L 131.01 248.18  L 131.04 273.84  L 131.05 338.4  L 131.06 217.75  L 131.22 271.48  L 131.23 338.4  L 131.38 242.52  L 131.4 338.4  L 131.58 217.44  L 131.94 217.44  L 131.94 338.4  L 132.05 238.03  L 132.14 228.59  L 132.2 338.4  L 132.3 248.36  L 132.31 338.4  L 132.48 226.31  L 132.5 338.4  L 132.66 289.07  L 132.69 338.4  L 132.83 222.32  L 132.84 286.4  L 132.85 338.4  L 132.91 242.66  L 133.03 338.4  L 133.17 225.74  L 133.21 338.4  L 133.38 266.61  L 133.39 338.4  L 133.44 236.19  L 133.56 338.4  L 133.65 228.69  L 133.74 338.4  L 133.82 224.17  L 133.93 338.4  L 133.99 249.17  L 134.1 253.85  L 134.14 338.4  L 134.3 229.01  L 134.33 338.4  L 134.46 325.51  L 134.46 303.28  L 134.47 338.4  L 134.63 250.78  L 134.64 257.75  L 134.66 338.4  L 134.69 217.4  L 134.82 264.56  L 134.82 256.95  L 134.83 338.4  L 134.91 224.27  L 135.06 338.4  L 135.18 324.24  L 135.19 338.4  L 135.22 243.07  L 135.36 289.52  L 135.36 278.24  L 135.38 338.4  L 135.4 239.78  L 135.56 338.4  L 135.6 239.47  L 135.72 272.42  L 135.72 338.4  L 135.74 232.84  L 135.91 338.4  L 136.02 221.32  L 136.08 272.02  L 136.08 338.4  L 136.26 228.25  L 136.3 338.4  L 136.4 220.45  L 136.45 338.4  L 136.61 233.32  L 136.62 232.41  L 136.63 338.4  L 136.8 262.64  L 136.8 268.98  L 136.81 338.4  L 136.95 235.47  L 136.99 338.4  L 137.05 252.18  L 137.16 338.4  L 137.2 255.04  L 137.34 299.17  L 137.34 216.72  L 137.7 216.72  L 137.72 338.4  L 137.88 254.67  L 137.91 338.4  L 138.02 239.64  L 138.06 241.42  L 138.11 338.4  L 138.15 219.63  L 138.27 338.4  L 138.35 211.22  L 138.42 338.4  L 138.57 228.76  L 138.6 338.4  L 138.67 233.24  L 138.78 338.4  L 138.81 228.38  L 138.96 260.98  L 138.96 338.4  L 139.13 224.68  L 139.14 267.26  L 139.14 338.4  L 139.27 232.43  L 139.32 244.82  L 139.33 338.4  L 139.36 235.91  L 139.5 282.88  L 139.5 274.53  L 139.51 338.4  L 139.57 220.81  L 139.69 338.4  L 139.8 258.61  L 139.86 265.9  L 139.87 338.4  L 139.9 233.57  L 140.05 338.4  L 140.11 239.33  L 140.22 243.59  L 140.23 338.4  L 140.36 245.29  L 140.42 338.4  L 140.49 245.18  L 140.6 338.4  L 140.75 222.94  L 140.79 234.61  L 140.81 338.4  L 140.94 273.97  L 140.94 288.62  L 140.96 338.4  L 141.06 233.32  L 141.12 282.68  L 141.13 338.4  L 141.19 253.54  L 141.32 338.4  L 141.32 227.72  L 141.48 268.9  L 141.48 241.51  L 141.5 338.4  L 141.66 279.07  L 141.66 300.97  L 141.67 338.4  L 141.69 229.98  L 141.84 291.85  L 141.87 338.4  L 141.91 242.1  L 142.1 338.4  L 142.18 240.38  L 142.21 338.4  L 142.38 213.84  L 142.74 213.84  L 142.75 338.4  L 142.8 217.84  L 142.92 246.26  L 142.92 238.56  L 142.96 338.4  L 143.1 240.76  L 143.11 338.4  L 143.2 237.6  L 143.28 251.8  L 143.28 243.92  L 143.29 338.4  L 143.44 239.72  L 143.46 262.43  L 143.47 338.4  L 143.54 238.12  L 143.64 338.4  L 143.68 232.67  L 143.82 272.94  L 143.82 269.45  L 143.84 338.4  L 143.9 232.17  L 144 246.21  L 144.01 338.4  L 144.05 231.34  L 144.18 338.4  L 144.29 229.98  L 144.36 269.83  L 144.37 338.4  L 144.53 226.85  L 144.54 250.33  L 144.58 338.4  L 144.61 233.31  L 144.72 259.78  L 144.76 220.62  L 144.78 338.4  L 144.9 338.4  L 144.91 219.5  L 145.08 338.4  L 145.25 239.53  L 145.26 285.26  L 145.28 338.4  L 145.29 228.11  L 145.44 243.46  L 145.45 338.4  L 145.5 238.63  L 145.67 338.4  L 145.74 235.38  L 145.8 249.27  L 145.81 338.4  L 145.96 230.91  L 145.98 270.75  L 145.99 338.4  L 146.03 223.54  L 146.16 301.83  L 146.18 338.4  L 146.33 245.84  L 146.34 293.64  L 146.35 338.4  L 146.52 227.03  L 146.53 231.51  L 146.54 338.4  L 146.7 298.22  L 146.76 338.4  L 146.85 241.94  L 146.88 316.89  L 146.89 338.4  L 146.98 230.91  L 147.1 338.4  L 147.24 240.91  L 147.25 338.4  L 147.42 300.72  L 147.45 338.4  L 147.46 224.7  L 147.6 273.45  L 147.63 238.63  L 147.67 338.4  L 147.78 267.72  L 147.78 282.1  L 147.8 338.4  L 147.95 231.85  L 147.96 266.95  L 147.97 338.4  L 148.06 223.36  L 148.15 338.4  L 148.26 215.31  L 148.34 338.4  L 148.37 213.84  L 148.5 259.9  L 148.5 258.76  L 148.51 338.4  L 148.58 240.88  L 148.72 338.4  L 148.82 235.3  L 148.86 338.4  L 148.86 330.33  L 148.99 338.4  L 149 225.96  L 149.08 338.4  L 149.19 229.7  L 149.22 272.45  L 149.22 338.4  L 149.35 223.97  L 149.47 338.4  L 149.58 207.36  L 149.94 207.36  L 149.96 338.4  L 150.02 203.74  L 150.12 252.41  L 150.12 251.18  L 150.13 338.4  L 150.24 233.89  L 150.3 255.46  L 150.32 338.4  L 150.34 239.67  L 150.48 338.4  L 150.52 214.63  L 150.66 277.92  L 150.69 219.17  L 150.71 338.4  L 150.84 238.62  L 150.86 338.4  L 151.01 220.24  L 151.03 338.4  L 151.12 230.3  L 151.3 338.4  L 151.45 225.25  L 151.57 338.4  L 151.6 222.38  L 151.79 338.4  L 151.82 231.2  L 151.95 338.4  L 152.1 224.71  L 152.1 238.97  L 152.12 338.4  L 152.19 226.58  L 152.28 272.21  L 152.28 271.84  L 152.36 237.83  L 152.46 338.4  L 152.46 333.93  L 152.49 338.4  L 152.53 213.91  L 152.64 338.4  L 152.72 245.68  L 152.85 338.4  L 152.97 234.58  L 153 291.26  L 153.02 338.4  L 153.17 229.1  L 153.18 338.4  L 153.35 234.1  L 153.36 242.32  L 153.43 338.4  L 153.53 213.01  L 153.54 261.63  L 153.59 338.4  L 153.64 220.32  L 153.74 338.4  L 153.76 226.23  L 153.9 285.12  L 153.92 243.02  L 153.98 338.4  L 154.08 297.51  L 154.08 321.64  L 154.11 338.4  L 154.22 234.49  L 154.26 274.24  L 154.39 231.91  L 154.52 338.4  L 154.62 311.7  L 154.62 316.24  L 154.67 338.4  L 154.77 213.97  L 154.81 234.49  L 154.83 338.4  L 154.98 310.06  L 155.01 246.02  L 155.08 338.4  L 155.27 229.37  L 155.34 239.86  L 155.34 196.56  L 155.7 196.56  L 155.72 338.4  L 155.85 228.52  L 155.88 247.68  L 155.89 338.4  L 155.9 211.89  L 156.06 274.13  L 156.06 265.65  L 156.07 338.4  L 156.2 218.34  L 156.24 338.4  L 156.33 219.28  L 156.42 254.36  L 156.54 241.99  L 156.61 338.4  L 156.72 231.13  L 156.8 338.4  L 156.89 232.4  L 156.96 297.43  L 156.96 295.43  L 157.04 222.08  L 157.19 338.4  L 157.22 222.91  L 157.37 338.4  L 157.5 251.03  L 157.51 338.4  L 157.62 213.43  L 157.69 227.34  L 157.7 338.4  L 157.86 288.85  L 157.86 289.62  L 157.87 338.4  L 157.93 236.12  L 158.05 338.4  L 158.22 240.08  L 158.22 241.23  L 158.24 338.4  L 158.25 208.71  L 158.42 338.4  L 158.58 227.98  L 158.59 338.4  L 158.76 302.16  L 158.76 338.4  L 158.84 227.59  L 158.96 338.4  L 159.12 234.11  L 159.12 248.57  L 159.16 338.4  L 159.25 237.44  L 159.3 293.34  L 159.37 338.4  L 159.4 234.52  L 159.48 287.15  L 159.49 338.4  L 159.51 234.79  L 159.66 252.14  L 159.67 227.89  L 159.73 338.4  L 159.84 242.44  L 159.88 338.4  L 159.94 229.74  L 160.03 338.4  L 160.19 209.48  L 160.23 231.58  L 160.32 338.4  L 160.48 238.72  L 160.57 338.4  L 160.74 221.22  L 160.74 228  L 160.76 338.4  L 160.86 222.1  L 160.92 271.55  L 160.94 338.4  L 161.06 216.06  L 161.1 277.17  L 161.12 338.4  L 161.23 222.42  L 161.33 338.4  L 161.43 223.2  L 161.46 338.4  L 161.62 239.8  L 161.64 291.14  L 161.72 229.08  L 161.75 338.4  L 161.94 248.94  L 162.01 338.4  L 162.06 229.65  L 162.2 338.4  L 162.32 234  L 162.36 293.44  L 162.39 338.4  L 162.54 237.93  L 162.54 250.6  L 162.55 338.4  L 162.6 216.39  L 162.75 338.4  L 162.9 275.44  L 162.9 281.98  L 162.92 338.4  L 162.96 234.26  L 163.08 254.12  L 163.08 245.84  L 163.09 338.4  L 163.24 220.16  L 163.26 338.4  L 163.38 212.31  L 163.45 338.4  L 163.47 227.91  L 163.64 338.4  L 163.76 231.19  L 163.8 286.77  L 163.84 338.4  L 163.92 229.45  L 163.99 338.4  L 164.05 219.81  L 164.16 271.95  L 164.18 338.4  L 164.29 211.47  L 164.34 263.08  L 164.35 338.4  L 164.38 231.54  L 164.53 338.4  L 164.7 203.76  L 165.06 203.76  L 165.06 338.4  L 165.08 243.17  L 165.24 338.4  L 165.3 223.94  L 165.42 273.22  L 165.43 338.4  L 165.46 240.59  L 165.6 324.17  L 165.6 277.45  L 165.63 222.99  L 165.67 338.4  L 165.78 267.49  L 165.78 277.67  L 165.86 338.4  L 165.88 226.8  L 165.96 257.94  L 165.98 338.4  L 166.04 230.02  L 166.14 286.78  L 166.19 338.4  L 166.24 263.62  L 166.32 297.05  L 166.34 338.4  L 166.47 238.01  L 166.5 294.64  L 166.53 338.4  L 166.67 225.42  L 166.68 288.2  L 166.69 338.4  L 166.82 212.26  L 166.86 257.9  L 166.88 338.4  L 166.93 216.98  L 167.04 255.67  L 167.04 255.02  L 167.14 338.4  L 167.21 225.83  L 167.22 338.4  L 167.34 229.38  L 167.4 338.4  L 167.54 224.86  L 167.64 338.4  L 167.73 221.54  L 167.76 239.76  L 167.77 338.4  L 167.86 214.89  L 167.94 338.4  L 168.12 226.16  L 168.2 338.4  L 168.3 189.36  L 168.66 189.36  L 168.68 338.4  L 168.84 228.84  L 168.84 243.38  L 168.86 338.4  L 168.93 205.3  L 169.08 338.4  L 169.11 220.92  L 169.2 313.36  L 169.26 338.4  L 169.35 238.87  L 169.38 285.93  L 169.43 338.4  L 169.46 213.64  L 169.56 338.4  L 169.69 223.53  L 169.74 338.4  L 169.92 211.93  L 169.94 338.4  L 170.1 299.57  L 170.16 338.4  L 170.26 248.23  L 170.28 285.16  L 170.3 338.4  L 170.31 229.1  L 170.46 243.16  L 170.48 338.4  L 170.5 222.78  L 170.64 338.4  L 170.81 247.04  L 170.82 283.29  L 170.88 338.4  L 170.91 223.5  L 171 244.47  L 171.02 338.4  L 171.17 205.63  L 171.18 245.15  L 171.2 338.4  L 171.29 205.5  L 171.41 338.4  L 171.45 236.16  L 171.54 246.82  L 171.55 338.4  L 171.69 226.98  L 171.73 338.4  L 171.8 217.93  L 171.9 285.63  L 171.9 201.6  L 172.26 201.6  L 172.26 338.4  L 172.43 210.57  L 172.49 217.27  L 172.51 338.4  L 172.62 222.2  L 172.64 338.4  L 172.8 283.04  L 172.8 303.26  L 172.8 338.4  L 172.94 210.83  L 172.99 338.4  L 173.11 240.91  L 173.16 285.77  L 173.22 338.4  L 173.3 205.11  L 173.34 321.68  L 173.34 338.4  L 173.41 227.52  L 173.54 338.4  L 173.55 213.36  L 173.7 245.85  L 173.7 242.1  L 173.75 338.4  L 173.79 212.98  L 173.94 338.4  L 174.06 338.4  L 174.08 232.27  L 174.1 338.4  L 174.24 288.04  L 174.31 338.4  L 174.4 217.86  L 174.42 285.17  L 174.43 338.4  L 174.57 244.2  L 174.6 269.94  L 174.64 338.4  L 174.71 236.1  L 174.78 260.07  L 174.79 338.4  L 174.82 237.45  L 174.96 276.24  L 175 222.25  L 175.02 338.4  L 175.14 251.4  L 175.16 338.4  L 175.31 215.03  L 175.32 272.58  L 175.37 338.4  L 175.44 216.01  L 175.5 289.58  L 175.55 338.4  L 175.63 211.97  L 175.68 300.89  L 175.68 338.4  L 175.8 228.66  L 175.86 269.18  L 175.9 338.4  L 175.98 237.03  L 176.04 245.13  L 176.1 338.4  L 176.14 240.84  L 176.22 338.4  L 176.22 318.64  L 176.24 232.57  L 176.29 338.4  L 176.45 221  L 176.46 338.4  L 176.58 320.67  L 176.62 216.83  L 176.69 338.4  L 176.84 218.4  L 176.96 338.4  L 177.07 211.76  L 177.12 270.43  L 177.18 338.4  L 177.21 227.7  L 177.3 297.5  L 177.32 338.4  L 177.48 219.26  L 177.48 236.57  L 177.49 338.4  L 177.5 220.98  L 177.66 294.71  L 177.66 275.37  L 177.71 221.22  L 177.75 338.4  L 177.92 206.31  L 177.96 338.4  L 178.02 258.77  L 178.03 207.41  L 178.08 338.4  L 178.21 204.8  L 178.25 338.4  L 178.38 190.37  L 178.74 190.37  L 178.75 338.4  L 178.76 213.77  L 178.92 279.54  L 178.92 274.96  L 178.94 338.4  L 178.99 217.68  L 179.18 338.4  L 179.28 234.01  L 179.29 338.4  L 179.46 255.75  L 179.58 338.4  L 179.66 207.87  L 179.68 338.4  L 179.82 284.04  L 179.91 338.4  L 179.94 196.25  L 180.01 221.55  L 180.13 338.4  L 180.29 212.84  L 180.48 338.4  L 180.5 217.64  L 180.54 266.32  L 180.61 338.4  L 180.65 221.21  L 180.72 236.63  L 180.81 338.4  L 180.88 209.92  L 180.93 321.12  L 181.08 242.77  L 181.2 338.4  L 181.35 208.29  L 181.46 338.4  L 181.49 239.4  L 181.65 338.4  L 181.79 222.78  L 181.8 235.02  L 181.85 338.4  L 181.86 226.64  L 182.02 338.4  L 182.04 211.52  L 182.16 329.19  L 182.16 267.19  L 182.17 222.48  L 182.24 338.4  L 182.34 241.78  L 182.36 338.4  L 182.44 220.39  L 182.54 338.4  L 182.7 187.92  L 183.06 187.92  L 183.1 338.4  L 183.14 223.96  L 183.24 233.74  L 183.24 230.64  L 183.29 216.98  L 183.31 338.4  L 183.42 230.35  L 183.54 338.4  L 183.59 222.76  L 183.6 237.42  L 183.65 338.4  L 183.75 214.01  L 183.78 258.7  L 183.81 338.4  L 183.84 217.02  L 184.04 329.43  L 184.08 205.91  L 184.14 222.2  L 184.2 338.4  L 184.27 217.04  L 184.32 236.39  L 184.36 338.4  L 184.42 218.36  L 184.5 300.12  L 184.62 210.02  L 184.68 209.99  L 184.7 338.4  L 184.86 324.42  L 184.89 213.8  L 184.93 338.4  L 185.04 300.05  L 185.04 306.49  L 185.14 338.4  L 185.17 211.18  L 185.24 213.49  L 185.48 338.4  L 185.49 209.98  L 185.58 270.97  L 185.6 338.4  L 185.63 213.27  L 185.77 338.4  L 185.84 219.19  L 185.94 241.97  L 185.95 338.4  L 186.13 205.83  L 186.23 338.4  L 186.3 294.62  L 186.3 269.01  L 186.34 338.4  L 186.44 208.64  L 186.48 247.63  L 186.49 338.4  L 186.5 221.2  L 186.66 274.5  L 186.74 215.17  L 186.86 338.4  L 186.89 213.67  L 187.02 232.04  L 187.02 182.16  L 187.38 182.16  L 187.48 338.4  L 187.56 279.42  L 187.56 295.49  L 187.61 338.4  L 187.64 219.69  L 187.76 338.4  L 187.86 205.68  L 187.92 260.89  L 187.98 338.4  L 188.1 225.09  L 188.16 338.4  L 188.23 217.85  L 188.28 226.67  L 188.29 338.4  L 188.46 218.33  L 188.48 338.4  L 188.64 209.46  L 188.67 338.4  L 188.78 204.02  L 188.82 221.18  L 188.85 338.4  L 188.88 205.35  L 189 206.82  L 189 206.04  L 189.02 338.4  L 189.18 279.93  L 189.23 338.4  L 189.29 205.22  L 189.36 241.68  L 189.38 338.4  L 189.4 215.11  L 189.54 262.83  L 189.67 211.62  L 189.72 338.4  L 189.94 200.12  L 189.98 338.4  L 190.17 200.12  L 190.26 338.4  L 190.29 200.34  L 190.44 246.14  L 190.46 338.4  L 190.47 213.86  L 190.62 254.95  L 190.62 248.02  L 190.63 338.4  L 190.65 207.99  L 190.83 338.4  L 190.87 200.52  L 190.98 338.4  L 191.15 210.02  L 191.16 211.78  L 191.26 338.4  L 191.27 200.52  L 191.37 338.4  L 191.39 206.64  L 191.52 243.81  L 191.53 338.4  L 191.67 210.59  L 191.7 221.66  L 191.72 338.4  L 191.77 186.05  L 192.06 186.05  L 192.21 338.4  L 192.25 207.74  L 192.27 338.4  L 192.5 218.17  L 192.54 338.4  L 192.6 282.16  L 192.64 226.49  L 192.85 338.4  L 192.9 207.73  L 192.96 305.56  L 192.96 338.4  L 193.08 219.14  L 193.15 338.4  L 193.26 206.44  L 193.35 205.62  L 193.37 338.4  L 193.5 207.13  L 193.5 208.69  L 193.51 338.4  L 193.65 205.73  L 193.68 270.29  L 193.68 338.4  L 193.84 221.43  L 193.86 285.04  L 193.86 317.16  L 193.9 216.23  L 194.02 338.4  L 194.07 205.62  L 194.22 232.96  L 194.36 205.62  L 194.4 338.4  L 194.57 219.51  L 194.58 250.13  L 194.6 218.85  L 194.64 338.4  L 194.79 215.79  L 194.94 338.4  L 194.94 323.28  L 194.97 338.4  L 195.07 200.19  L 195.12 212.88  L 195.15 338.4  L 195.25 200.19  L 195.3 242.36  L 195.32 338.4  L 195.48 204.09  L 195.48 208.47  L 195.55 338.4  L 195.8 214.63  L 195.84 338.4  L 196.01 200.32  L 196.02 202.96  L 196.08 327.97  L 196.2 270.34  L 196.23 338.4  L 196.34 209.91  L 196.38 218.23  L 196.41 338.4  L 196.45 207.57  L 196.56 261.48  L 196.56 250.54  L 196.58 200.32  L 196.6 338.4  L 196.74 236.2  L 196.74 251.85  L 196.78 338.4  L 196.96 145.08  L 197.28 145.08  L 197.43 338.4  L 197.46 227.12  L 197.47 287.62  L 197.7 199.18  L 197.75 320.7  L 197.82 209.35  L 197.83 338.4  L 197.89 210.1  L 198 250.32  L 198 246.88  L 198.06 196.67  L 198.21 338.4  L 198.25 200.79  L 198.36 329.26  L 198.37 328.19  L 198.45 208.66  L 198.54 239.68  L 198.55 338.4  L 198.72 214.17  L 198.72 223.79  L 198.74 338.4  L 198.85 200.79  L 198.93 209.29  L 199.02 338.4  L 199.13 207.65  L 199.26 298.35  L 199.26 242.9  L 199.36 200.79  L 199.4 338.4  L 199.44 218.71  L 199.47 200.91  L 199.61 330.24  L 199.62 251.5  L 199.73 205.5  L 199.83 338.4  L 199.86 197.55  L 199.98 258.28  L 199.98 235.01  L 200.05 200.88  L 200.16 338.4  L 200.18 200.86  L 200.34 214.58  L 200.4 338.4  L 200.53 197.55  L 200.55 338.4  L 200.71 200.59  L 200.82 338.4  L 200.94 199.42  L 201.09 338.4  L 201.2 197.55  L 201.29 212.53  L 201.42 338.4  L 201.54 197.54  L 201.6 234.85  L 201.6 338.4  L 201.78 209.76  L 201.78 211.32  L 201.79 336.72  L 201.81 197.54  L 201.96 220.95  L 201.96 217.37  L 202 338.4  L 202.14 338.4  L 202.14 121.1  L 202.5 121.1  L 202.53 338.4  L 202.55 199.89  L 202.68 255.88  L 202.68 338.4  L 202.75 199.53  L 202.96 338.4  L 202.99 196.87  L 203.04 247.44  L 203.15 338.4  L 203.19 193.65  L 203.26 207.2  L 203.35 338.4  L 203.4 307.45  L 203.5 204.84  L 203.52 338.4  L 203.58 246.76  L 203.65 338.4  L 203.74 192.45  L 203.78 196.94  L 203.93 334.54  L 203.94 253.18  L 203.96 338.4  L 204.01 184.06  L 204.17 338.4  L 204.26 199.83  L 204.3 260.89  L 204.37 195.42  L 204.39 338.4  L 204.48 338.4  L 204.56 182.85  L 204.77 324.1  L 204.83 187.76  L 204.85 338.4  L 204.94 183.99  L 205.02 187.86  L 205.04 338.4  L 205.1 182.5  L 205.2 198.28  L 205.2 196.22  L 205.25 338.4  L 205.27 191.4  L 205.45 338.4  L 205.5 188.61  L 205.56 234.47  L 205.7 338.4  L 205.72 182.36  L 205.78 338.4  L 205.92 233.58  L 205.92 233.98  L 206.02 338.4  L 206.08 202.28  L 206.11 338.4  L 206.35 188.04  L 206.38 338.4  L 206.46 206.12  L 206.5 338.4  L 206.53 190.8  L 206.64 192.43  L 206.64 190.85  L 206.69 338.4  L 206.87 183.84  L 206.92 332.14  L 207 224.22  L 207 244.25  L 207.08 338.4  L 207.1 183.75  L 207.18 210.78  L 207.27 188.42  L 207.34 338.4  L 207.36 235.43  L 207.4 204.49  L 207.45 338.4  L 207.54 212.86  L 207.58 338.4  L 207.66 180.84  L 207.72 220.99  L 207.76 338.4  L 207.8 198.79  L 207.92 310.64  L 208 172.99  L 208.08 290.38  L 208.13 338.4  L 208.15 179.12  L 208.26 213.3  L 208.26 201.43  L 208.31 338.4  L 208.33 114.62  L 208.62 114.62  L 208.79 338.4  L 208.8 220.17  L 208.82 332.34  L 208.84 184.91  L 209 338.4  L 209.05 178.46  L 209.16 304.38  L 209.24 196.53  L 209.36 338.4  L 209.38 187.88  L 209.52 254.12  L 209.55 338.4  L 209.58 198.95  L 209.7 212.44  L 209.7 209.41  L 209.72 338.4  L 209.77 208.28  L 209.88 338.4  L 209.91 210.06  L 210.06 338.4  L 210.15 197.92  L 210.24 218.86  L 210.27 338.4  L 210.37 201.29  L 210.46 203.64  L 210.54 338.4  L 210.69 200.28  L 210.79 338.4  L 210.81 197.92  L 211.02 338.4  L 211.17 209.84  L 211.2 338.4  L 211.32 290.16  L 211.32 293.59  L 211.35 188.74  L 211.5 338.4  L 211.5 288.75  L 211.59 338.4  L 211.66 186.64  L 211.7 206.34  L 211.75 338.4  L 212.04 167.04  L 212.22 167.04  L 212.25 165.6  L 212.32 338.4  L 212.41 167.1  L 212.43 338.4  L 212.58 215.74  L 212.58 241.54  L 212.63 338.4  L 212.68 170.3  L 212.76 240.94  L 212.89 338.4  L 212.99 168.83  L 213.08 338.4  L 213.12 276.07  L 213.15 179.65  L 213.22 338.4  L 213.33 181.13  L 213.37 332.65  L 213.49 172.86  L 213.52 338.4  L 213.66 257.91  L 213.66 263.83  L 213.68 338.4  L 213.84 187.12  L 213.94 267.85  L 213.99 179.73  L 214.02 229.6  L 214.05 337.81  L 214.15 184.32  L 214.21 338.4  L 214.36 179.73  L 214.38 191.09  L 214.49 183.42  L 214.64 338.4  L 214.68 197.34  L 214.77 263.56  L 214.92 115.92  L 215.1 115.92  L 215.18 338.4  L 215.28 187.33  L 215.28 192.58  L 215.41 186.72  L 215.46 338.4  L 215.53 181.43  L 215.64 228.15  L 215.69 178.18  L 215.8 338.4  L 215.82 215.22  L 215.85 179.4  L 215.93 310.52  L 216 232.65  L 216.03 200.71  L 216.05 338.4  L 216.18 338.4  L 216.26 199.99  L 216.36 214.82  L 216.39 338.4  L 216.44 214.53  L 216.58 338.4  L 216.7 195.46  L 216.72 259.97  L 216.73 338.4  L 216.78 201.66  L 216.9 250.69  L 216.9 223.08  L 216.95 338.4  L 217.18 194.06  L 217.21 338.4  L 217.28 299.37  L 217.35 200.21  L 217.44 283.77  L 217.47 194.06  L 217.49 329.35  L 217.62 206.87  L 217.69 338.4  L 217.78 195.74  L 217.8 287.48  L 217.8 338.4  L 217.89 211.64  L 217.98 332.12  L 217.98 275.07  L 218 209.79  L 218.04 338.4  L 218.22 207.01  L 218.25 338.4  L 218.34 278.05  L 218.37 187  L 218.41 338.4  L 218.52 268.13  L 218.56 338.4  L 218.7 167.76  L 218.88 167.76  L 219.02 338.4  L 219.17 181.37  L 219.24 338.4  L 219.4 181.48  L 219.42 191.32  L 219.49 338.4  L 219.64 164.88  L 219.96 164.88  L 220.01 338.4  L 220.14 194.88  L 220.14 214.52  L 220.26 192.38  L 220.35 338.4  L 220.4 179.23  L 220.56 317.64  L 220.63 199.04  L 220.68 211.29  L 220.71 298.42  L 220.79 186.43  L 220.86 245.13  L 220.89 192.72  L 220.94 338.4  L 221.06 194.85  L 221.11 338.4  L 221.26 196.69  L 221.32 338.4  L 221.45 196.03  L 221.53 338.4  L 221.64 208.48  L 221.86 338.4  L 222.02 133.78  L 222.3 133.78  L 222.43 291.84  L 222.48 206.81  L 222.48 217.92  L 222.55 288.34  L 222.58 210.16  L 222.66 215.22  L 222.7 196.99  L 222.79 338.4  L 222.85 196.22  L 222.97 338.4  L 223.02 232.11  L 223.07 338.4  L 223.2 217.7  L 223.28 338.4  L 223.42 193.47  L 223.57 338.4  L 223.74 177.12  L 223.92 177.12  L 224.09 338.4  L 224.1 265.08  L 224.18 336.31  L 224.21 198.51  L 224.28 224.65  L 224.33 202.99  L 224.46 338.4  L 224.61 214.9  L 224.69 338.4  L 224.85 208.05  L 225 338.4  L 225 312.34  L 225.08 208.05  L 225.1 338.4  L 225.18 307.07  L 225.25 338.4  L 225.43 209.56  L 225.54 227.15  L 225.65 338.4  L 225.79 208.05  L 225.9 338.4  L 225.9 252  L 225.98 338.4  L 226.02 199.02  L 226.08 252.09  L 226.16 338.4  L 226.24 214.07  L 226.26 220.01  L 226.31 338.4  L 226.42 186.12  L 226.47 187.63  L 226.49 338.4  L 226.62 271.22  L 226.62 293.78  L 226.68 338.4  L 226.76 183.58  L 226.8 297.14  L 226.9 320.2  L 226.94 187.98  L 226.98 268.78  L 227.05 188.24  L 227.16 338.4  L 227.23 184.07  L 227.34 244.94  L 227.34 164.74  L 227.7 164.74  L 227.71 338.4  L 227.78 189.73  L 227.88 203.38  L 227.94 338.4  L 228.06 239.36  L 228.06 255.07  L 228.07 338.4  L 228.1 214.08  L 228.24 273.63  L 228.24 231.86  L 228.34 207.41  L 228.39 338.4  L 228.42 218.02  L 228.49 207.41  L 228.66 338.4  L 228.75 223.2  L 228.79 313.07  L 228.95 212.58  L 228.96 227.58  L 228.99 338.4  L 229.05 207.41  L 229.13 257.61  L 229.14 252.68  L 229.16 338.4  L 229.23 226.1  L 229.32 236.24  L 229.46 338.4  L 229.52 200.19  L 229.68 223.93  L 229.69 338.4  L 229.76 191.1  L 229.86 303.06  L 229.91 198.71  L 230.04 338.4  L 230.05 266.94  L 230.08 178.57  L 230.11 293.29  L 230.21 279.27  L 230.22 166.18  L 230.58 166.18  L 230.69 326.49  L 230.76 233.87  L 230.76 249.89  L 230.9 195.5  L 230.95 338.4  L 231.05 182.52  L 231.12 338.4  L 231.21 184.71  L 231.31 186.58  L 231.37 338.4  L 231.4 178.44  L 231.48 207.59  L 231.48 193.83  L 231.51 337.16  L 231.62 180.49  L 231.66 196.21  L 231.76 183.12  L 231.79 329.02  L 231.86 177.08  L 231.98 338.4  L 232.05 177.08  L 232.09 326.23  L 232.31 173.52  L 232.56 173.52  L 232.77 338.4  L 232.99 203.22  L 233.11 338.4  L 233.33 204.44  L 233.46 338.4  L 233.57 205.8  L 233.66 218.18  L 233.82 338.4  L 233.92 201.57  L 234 223.17  L 234.07 202.71  L 234.1 338.4  L 234.18 259.19  L 234.25 201.57  L 234.35 338.4  L 234.37 226.64  L 234.5 221.83  L 234.55 338.4  L 234.72 205.77  L 234.73 207.45  L 234.79 338.4  L 234.82 206.52  L 234.89 278.28  L 234.9 260.57  L 234.95 201.87  L 235.18 338.4  L 235.23 201.87  L 235.26 334.98  L 235.3 338.4  L 235.42 227.66  L 235.44 244.74  L 235.48 321.92  L 235.6 200.31  L 235.62 248.71  L 235.63 338.4  L 235.69 191.47  L 235.8 202  L 235.86 338.4  L 235.98 177.84  L 236.17 177.84  L 236.29 338.4  L 236.34 203.31  L 236.38 206.92  L 236.52 218.88  L 236.55 338.4  L 236.67 219.86  L 236.7 277.08  L 236.75 328.95  L 236.78 201.56  L 236.88 230.05  L 236.94 209.12  L 237.01 338.4  L 237.06 246.93  L 237.15 206.59  L 237.19 338.4  L 237.24 208.86  L 237.29 201.56  L 237.4 338.4  L 237.43 314.75  L 237.6 197.12  L 237.6 197.21  L 237.7 338.4  L 237.79 324  L 237.8 199.32  L 237.9 338.4  L 237.96 258.41  L 237.96 254.32  L 238.05 338.4  L 238.09 197.12  L 238.14 258.08  L 238.2 313.58  L 238.27 207.78  L 238.32 216.9  L 238.37 338.4  L 238.41 210.66  L 238.53 338.4  L 238.68 204.32  L 238.78 338.4  L 238.86 191.81  L 239.04 191.81  L 239.18 258.87  L 239.22 236.01  L 239.33 202.29  L 239.41 338.4  L 239.59 197.59  L 239.71 338.4  L 239.83 196.11  L 239.94 210.28  L 239.94 203.23  L 240.01 196.22  L 240.17 338.4  L 240.21 207.24  L 240.31 211.86  L 240.42 338.4  L 240.45 199.64  L 240.48 223.51  L 240.56 338.4  L 240.59 210.23  L 240.67 215.19  L 240.72 338.4  L 240.75 193.47  L 240.84 216.24  L 240.84 211.45  L 240.87 326.87  L 240.91 192  L 241.04 338.4  L 241.19 199.5  L 241.3 202.03  L 241.37 338.4  L 241.38 175.68  L 241.73 175.68  L 241.83 338.4  L 242.04 201.2  L 242.12 338.4  L 242.29 191.08  L 242.33 338.4  L 242.46 197.07  L 242.46 203.06  L 242.48 327.84  L 242.51 192.35  L 242.64 207.41  L 242.68 338.4  L 242.83 232.36  L 242.86 338.4  L 242.99 271.17  L 243 287.21  L 243.01 338.4  L 243.17 206.58  L 243.18 212.2  L 243.3 285.41  L 243.37 205.96  L 243.42 289.39  L 243.54 271.4  L 243.56 338.4  L 243.74 209.13  L 243.87 338.4  L 243.89 245.4  L 243.92 338.4  L 244.07 233.93  L 244.09 265.99  L 244.09 329.34  L 244.26 209.13  L 244.32 338.4  L 244.44 259.88  L 244.49 338.4  L 244.59 209.13  L 244.62 230.3  L 244.72 338.4  L 244.87 208.42  L 244.91 338.4  L 244.99 215.45  L 245.12 338.4  L 245.22 221.9  L 245.34 338.4  L 245.5 220.48  L 245.52 268.34  L 245.53 338.4  L 245.57 223.2  L 245.7 270.27  L 245.71 338.4  L 245.87 210.65  L 245.88 216.29  L 245.9 338.4  L 246.01 212.02  L 246.09 224.34  L 246.13 277.36  L 246.24 231.34  L 246.24 231.57  L 246.29 338.4  L 246.38 211.36  L 246.42 237.12  L 246.5 218  L 246.65 338.4  L 246.78 209.37  L 246.78 210.92  L 246.89 326.82  L 247.08 219.47  L 247.19 338.4  L 247.25 220.38  L 247.34 221.81  L 247.38 338.4  L 247.5 315.93  L 247.55 338.4  L 247.61 224.6  L 247.68 230.64  L 247.68 228.93  L 247.74 214.56  L 247.86 338.4  L 247.86 282.79  L 247.9 212.77  L 247.99 338.4  L 248.04 226.32  L 248.05 230.68  L 248.12 324.52  L 248.18 216.42  L 248.22 219.35  L 248.26 338.4  L 248.4 338.4  L 248.47 237.22  L 248.59 255.04  L 248.7 225.87  L 248.76 338.4  L 248.85 224.29  L 248.95 338.4  L 249.08 225.64  L 249.12 285.67  L 249.12 285.15  L 249.15 303.54  L 249.16 187.92  L 249.49 187.92  L 249.58 338.4  L 249.66 209.94  L 249.67 210.76  L 249.84 338.4  L 250.02 224.03  L 250.02 224.48  L 250.13 338.4  L 250.16 220.93  L 250.2 253.15  L 250.32 338.4  L 250.35 224.78  L 250.38 338.4  L 250.51 204.93  L 250.56 211.17  L 250.72 338.4  L 250.75 211.41  L 250.78 319.99  L 250.92 217.9  L 250.93 225.1  L 250.99 278.08  L 251.02 219.6  L 251.1 245.48  L 251.16 231.37  L 251.29 338.4  L 251.35 221.47  L 251.46 228.56  L 251.5 217.78  L 251.56 338.4  L 251.64 288.26  L 251.7 220.92  L 251.76 338.4  L 251.83 239.65  L 251.87 338.4  L 252 221.66  L 252.1 329.99  L 252.17 217.88  L 252.18 218.14  L 252.25 338.4  L 252.37 226.59  L 252.41 338.4  L 252.55 164.45  L 252.72 164.45  L 252.9 327.39  L 252.9 297.12  L 252.93 211.94  L 253.08 338.4  L 253.29 214.83  L 253.34 338.4  L 253.5 222.09  L 253.54 338.4  L 253.64 219.74  L 253.7 338.4  L 253.85 210.94  L 254 338.4  L 254.08 210.24  L 254.16 253.55  L 254.21 216.83  L 254.34 338.4  L 254.35 308.8  L 254.38 211.7  L 254.54 338.4  L 254.59 254.21  L 254.71 338.4  L 254.76 254.91  L 254.87 338.4  L 254.88 319.61  L 254.96 213.62  L 255.08 338.4  L 255.19 207.45  L 255.24 223.38  L 255.28 338.4  L 255.36 205.01  L 255.42 214.14  L 255.61 338.4  L 255.74 223.23  L 255.79 273.89  L 255.92 338.4  L 255.96 206.63  L 256.01 338.4  L 256.14 277.81  L 256.14 338.4  L 256.18 205.34  L 256.32 338.4  L 256.36 215.73  L 256.5 310.37  L 256.55 211.04  L 256.64 324.91  L 256.69 246.12  L 256.71 216.97  L 256.74 338.4  L 256.87 338.4  L 256.92 201.38  L 257.04 338.4  L 257.05 296.82  L 257.11 211.74  L 257.22 218.63  L 257.26 338.4  L 257.36 211.11  L 257.46 212.12  L 257.5 262.75  L 257.58 219.48  L 257.59 218.9  L 257.65 338.4  L 257.76 215.87  L 257.76 217.4  L 257.85 338.4  L 257.94 298.57  L 257.95 307.68  L 257.96 338.4  L 258.09 209.26  L 258.12 233.63  L 258.14 338.4  L 258.22 222.7  L 258.29 241.62  L 258.3 233.29  L 258.44 217.11  L 258.49 247.19  L 258.5 327.25  L 258.55 218.46  L 258.66 226.41  L 258.66 219.77  L 258.69 211.37  L 258.83 338.4  L 258.9 312.43  L 258.97 225.35  L 259.01 306.35  L 259.02 338.4  L 259.05 243.74  L 259.2 287.94  L 259.21 273.46  L 259.26 223.19  L 259.42 324.88  L 259.51 223.62  L 259.57 264.65  L 259.64 214.87  L 259.75 338.4  L 259.86 220.17  L 259.92 227  L 259.97 338.4  L 260.04 212.86  L 260.1 338.4  L 260.17 254.34  L 260.28 338.4  L 260.38 210.87  L 260.47 337.82  L 260.56 211.73  L 260.78 327.98  L 260.88 214.11  L 261 338.4  L 261.01 287.84  L 261.12 338.4  L 261.18 203.91  L 261.3 338.4  L 261.37 198.88  L 261.59 317.18  L 261.68 203.21  L 261.72 286.31  L 261.73 338.4  L 261.92 196.6  L 261.99 335.8  L 262.07 252.9  L 262.08 287  L 262.1 338.4  L 262.35 204.57  L 262.45 338.4  L 262.65 195.32  L 262.8 338.4  L 262.83 225.4  L 262.87 338.4  L 262.99 296.34  L 263.05 199.12  L 263.26 324.4  L 263.34 206.62  L 263.35 208.54  L 263.38 338.4  L 263.51 199.88  L 263.52 200.6  L 263.67 338.4  L 263.7 238.41  L 263.78 338.4  L 263.89 209.49  L 264.03 283.72  L 264.06 239.9  L 264.09 261.31  L 264.13 208.42  L 264.24 242.77  L 264.3 338.4  L 264.38 211.26  L 264.42 277.16  L 264.43 321.21  L 264.45 221.95  L 264.56 338.4  L 264.59 271.46  L 264.67 223.48  L 264.81 338.4  L 264.96 153.72  L 265.15 153.72  L 265.32 338.4  L 265.42 227.42  L 265.58 338.4  L 265.64 219.67  L 265.7 287.34  L 265.87 158.4  L 266.04 158.4  L 266.16 338.4  L 266.21 211.63  L 266.22 218.71  L 266.32 338.4  L 266.4 235.69  L 266.47 338.4  L 266.6 217.5  L 266.65 315.52  L 266.78 220.79  L 266.83 338.4  L 266.93 233.62  L 266.94 237.03  L 267.04 281.3  L 267.09 200.82  L 267.16 219.57  L 267.2 338.4  L 267.3 220.17  L 267.31 221.94  L 267.52 338.4  L 267.57 221.64  L 267.65 258.06  L 267.66 269.86  L 267.79 214.88  L 267.88 212.76  L 267.92 338.4  L 268.13 215.09  L 268.2 248.1  L 268.31 216.66  L 268.43 338.4  L 268.48 223.06  L 268.56 238.4  L 268.6 212.08  L 268.73 338.4  L 268.74 306.7  L 268.81 211.65  L 268.93 225.39  L 269.07 338.4  L 269.09 281.51  L 269.1 235.54  L 269.2 338.4  L 269.25 202.42  L 269.29 338.4  L 269.46 211.23  L 269.47 211.91  L 269.54 338.4  L 269.61 197.62  L 269.65 207.31  L 269.72 338.4  L 269.86 204.38  L 269.99 240.54  L 270 240.27  L 270.03 217.22  L 270.11 338.4  L 270.27 204.11  L 270.35 287.34  L 270.36 279.05  L 270.44 202.96  L 270.49 338.4  L 270.54 215.33  L 270.6 300.98  L 270.65 197.34  L 270.74 208.79  L 270.91 338.4  L 271.06 211.61  L 271.08 236.92  L 271.1 338.4  L 271.25 217.45  L 271.26 220.79  L 271.29 307.53  L 271.39 199.03  L 271.44 237.07  L 271.6 198.26  L 271.63 209.4  L 271.65 338.4  L 271.7 195.26  L 271.81 258.57  L 271.85 215.87  L 271.89 338.4  L 271.97 300.9  L 272.12 212.77  L 272.24 338.4  L 272.34 241.69  L 272.44 338.4  L 272.55 199.81  L 272.61 338.4  L 272.71 322.54  L 272.85 196.89  L 272.93 203.16  L 272.99 338.4  L 273.11 211.74  L 273.25 338.4  L 273.33 228.66  L 273.41 245.34  L 273.44 338.4  L 273.49 216.52  L 273.6 269.95  L 273.66 213.48  L 273.72 338.4  L 273.78 236.35  L 273.86 206.52  L 274.01 335.44  L 274.15 245.91  L 274.19 267.45  L 274.33 217.3  L 274.37 338.4  L 274.5 293.83  L 274.51 316.79  L 274.52 334.15  L 274.6 221.93  L 274.69 246.91  L 274.78 338.4  L 274.83 221.18  L 274.88 338.4  L 274.98 223.24  L 275.03 305.11  L 275.04 260.23  L 275.12 217.15  L 275.22 338.4  L 275.37 219.91  L 275.41 227.82  L 275.53 304.65  L 275.59 217.86  L 275.64 338.4  L 275.75 228.86  L 275.76 230.41  L 275.82 299.07  L 275.97 210.21  L 276.03 319.48  L 276.11 268.44  L 276.19 277.14  L 276.25 210.54  L 276.3 262.25  L 276.32 338.4  L 276.54 224.45  L 276.58 327.04  L 276.66 281.49  L 276.74 295.38  L 276.79 215.82  L 276.83 228.35  L 276.84 219.62  L 276.91 338.4  L 277.04 201.22  L 277.17 338.4  L 277.19 300.26  L 277.26 211.58  L 277.34 338.4  L 277.38 264.85  L 277.46 210.09  L 277.59 315.81  L 277.67 209.25  L 277.75 297.09  L 277.83 260.48  L 277.92 338.4  L 277.93 304.97  L 277.97 215.85  L 278.03 338.4  L 278.09 258.35  L 278.14 213.48  L 278.21 338.4  L 278.27 228.25  L 278.29 229.64  L 278.37 320.95  L 278.43 220.41  L 278.46 236.97  L 278.54 231.17  L 278.63 338.4  L 278.64 331.33  L 278.76 196.92  L 278.83 217.38  L 278.87 338.4  L 278.92 199.87  L 279.01 213.29  L 279.04 338.4  L 279.18 270.85  L 279.19 291.93  L 279.21 338.4  L 279.34 238.92  L 279.36 274.41  L 279.38 338.4  L 279.58 209.96  L 279.72 338.4  L 279.82 257.41  L 279.91 338.4  L 280.03 227.8  L 280.09 250.87  L 280.16 338.4  L 280.22 217.42  L 280.26 273.96  L 280.33 338.4  L 280.39 222.43  L 280.45 249.44  L 280.61 195.89  L 280.62 196.46  L 280.76 235.41  L 280.81 137.16  L 280.98 137.16  L 281.2 302.51  L 281.33 210.7  L 281.35 214.91  L 281.38 311.44  L 281.42 190.08  L 281.71 190.08  L 281.78 262.97  L 281.9 214.46  L 282.09 338.4  L 282.19 225.23  L 282.24 263.86  L 282.32 338.4  L 282.43 230.28  L 282.47 338.4  L 282.52 225.67  L 282.61 237.24  L 282.66 285.77  L 282.73 230.69  L 282.79 255.52  L 282.92 219.01  L 282.96 234.43  L 282.98 322.35  L 283.1 203.31  L 283.15 233.96  L 283.2 220.96  L 283.25 338.4  L 283.38 228.31  L 283.44 259.31  L 283.5 232.14  L 283.51 239.19  L 283.68 338.4  L 283.85 229.61  L 283.86 229.72  L 283.91 338.4  L 284.03 338.4  L 284.11 223.48  L 284.23 233.53  L 284.29 210.35  L 284.4 338.4  L 284.41 322.06  L 284.45 240.44  L 284.5 338.4  L 284.71 218.67  L 284.77 247.25  L 284.85 227.86  L 285 338.4  L 285.17 270.7  L 285.3 338.4  L 285.31 322.92  L 285.53 213.31  L 285.67 289.46  L 285.73 219.12  L 285.83 311.79  L 285.85 300.01  L 286.03 206.97  L 286.17 262.19  L 286.22 214.03  L 286.28 338.4  L 286.46 213.95  L 286.56 338.4  L 286.65 224.35  L 286.81 338.4  L 286.89 210.68  L 286.93 219.5  L 287.07 338.4  L 287.09 307.02  L 287.22 217.79  L 287.27 338.4  L 287.32 216.54  L 287.39 338.4  L 287.57 204.92  L 287.77 323.22  L 287.81 247.9  L 287.85 338.4  L 287.95 211.55  L 288 280.46  L 288.02 338.4  L 288.18 213.42  L 288.24 338.4  L 288.36 209.59  L 288.48 338.4  L 288.55 196.9  L 288.61 338.4  L 288.72 210.76  L 288.73 217.97  L 288.77 338.4  L 288.9 300.45  L 288.91 323.59  L 288.98 213.13  L 289.08 216.22  L 289.17 338.4  L 289.24 211.82  L 289.26 229.92  L 289.29 338.4  L 289.34 212.98  L 289.43 329.03  L 289.45 314.6  L 289.58 233.85  L 289.65 338.4  L 289.8 226.92  L 289.9 291.74  L 289.96 204.33  L 289.99 207.32  L 290.07 338.4  L 290.22 213.05  L 290.27 278.63  L 290.34 218.32  L 290.35 228.61  L 290.38 297.08  L 290.6 202.42  L 290.76 338.4  L 290.88 284.89  L 290.92 338.4  L 291.07 214.11  L 291.15 295.58  L 291.34 214.58  L 291.54 338.4  L 291.65 203.2  L 291.76 338.4  L 291.79 255.83  L 291.83 222.76  L 291.99 338.4  L 292.12 219.26  L 292.14 224.27  L 292.18 338.4  L 292.43 222.02  L 292.5 226.57  L 292.58 212.28  L 292.69 222.43  L 292.73 330.53  L 292.79 211.56  L 292.86 224.33  L 292.87 211.65  L 292.9 202.81  L 293.04 231.5  L 293.07 338.4  L 293.26 205.87  L 293.41 338.4  L 293.61 209.91  L 293.78 338.4  L 293.89 222.31  L 293.93 271.57  L 293.99 338.4  L 294.14 219.97  L 294.2 291.16  L 294.31 244.59  L 294.35 338.4  L 294.42 214.49  L 294.48 338.4  L 294.49 283.71  L 294.55 216.53  L 294.65 338.4  L 294.66 330.61  L 294.78 221.85  L 294.91 338.4  L 294.98 212.31  L 295.03 280.64  L 295.12 223.1  L 295.18 338.4  L 295.2 264.34  L 295.28 300.14  L 295.33 221.92  L 295.39 277.46  L 295.43 338.4  L 295.56 219.57  L 295.63 338.4  L 295.74 291.61  L 295.75 313.73  L 295.79 338.4  L 295.92 267.87  L 295.98 293.07  L 296.05 219.4  L 296.11 258.52  L 296.14 277.07  L 296.3 215.87  L 296.47 338.4  L 296.63 225.26  L 296.65 237.52  L 296.68 338.4  L 296.76 200.64  L 296.82 214.43  L 296.93 211.01  L 297.07 338.4  L 297.22 203.55  L 297.48 235.69  L 297.59 220.51  L 297.68 309.42  L 297.72 263.23  L 297.78 248.02  L 297.84 267.53  L 297.99 216.1  L 298.15 338.1  L 298.29 230.1  L 298.42 306.02  L 298.44 269.19  L 298.48 221.74  L 298.54 327.17  L 298.61 248.58  L 298.63 256.06  L 298.77 212.12  L 298.8 219.62  L 298.93 338.4  L 299.08 208.53  L 299.17 338.4  L 299.32 216.51  L 299.35 219.78  L 299.52 338.4  L 299.63 210.12  L 299.69 269.09  L 299.7 284.48  L 299.83 210.23  L 299.89 235.2  L 299.92 338.4  L 299.99 214.56  L 300.07 232.98  L 300.18 249.01  L 300.25 203.62  L 300.39 338.4  L 300.41 297.01  L 300.47 201.38  L 300.56 284.85  L 300.61 278.98  L 300.67 255.1  L 300.73 286.45  L 300.78 271.97  L 300.79 130.03  L 301.13 130.03  L 301.26 316.17  L 301.32 212.45  L 301.49 338.4  L 301.51 185.76  L 301.85 185.76  L 301.87 271.51  L 302.09 199.47  L 302.23 338.4  L 302.34 214.99  L 302.41 221.1  L 302.47 220.82  L 302.53 303.93  L 302.58 221.5  L 302.61 214.34  L 302.69 338.4  L 302.76 298.65  L 302.82 214.75  L 303.01 338.4  L 303.12 222.03  L 303.19 291.8  L 303.27 211.05  L 303.31 213.72  L 303.41 278.98  L 303.48 220.58  L 303.49 221.82  L 303.62 338.4  L 303.67 298.26  L 303.68 285.69  L 303.85 338.4  L 303.96 220.84  L 304.01 264.07  L 304.04 337.16  L 304.17 270.43  L 304.2 306.45  L 304.22 338.4  L 304.38 207.88  L 304.45 299.7  L 304.51 199.26  L 304.56 211.66  L 304.61 338.4  L 304.9 214.91  L 304.92 215.06  L 305.07 266.52  L 305.1 246.15  L 305.12 240.99  L 305.18 290.53  L 305.27 263.9  L 305.28 270.82  L 305.37 292.36  L 305.43 222.83  L 305.47 240.43  L 305.5 288.78  L 305.58 220.07  L 305.65 248.65  L 305.66 252.06  L 305.81 217.94  L 305.83 220.35  L 306 338.4  L 306.01 338.4  L 306.16 209.16  L 306.18 210.81  L 306.46 338.4  L 306.7 206.3  L 306.73 212.6  L 306.78 338.4  L 306.89 287.87  L 306.9 338.4  L 306.99 202.34  L 307.07 222.49  L 307.11 338.4  L 307.28 201.85  L 307.34 308.12  L 307.43 216.65  L 307.45 247.14  L 307.46 317.17  L 307.63 214.46  L 307.8 271.07  L 307.84 338.4  L 307.99 183.6  L 308.16 183.6  L 308.34 338.4  L 308.35 309.64  L 308.56 202.33  L 308.65 256.58  L 308.7 209.21  L 308.72 211.51  L 308.77 267.82  L 308.87 251.96  L 308.89 337  L 308.96 221.29  L 309.15 338.4  L 309.22 257.16  L 309.27 273.69  L 309.45 227.69  L 309.5 242.47  L 309.59 236.54  L 309.66 336.04  L 309.76 222.13  L 309.78 222.29  L 309.89 218.98  L 309.98 338.4  L 310.05 220.88  L 310.15 223.59  L 310.19 213.85  L 310.28 260.6  L 310.33 230.16  L 310.35 226.26  L 310.44 318.68  L 310.54 225.75  L 310.65 260.14  L 310.69 240.1  L 310.77 210.35  L 310.86 245.25  L 310.95 326.98  L 311.02 271.98  L 311.04 292.44  L 311.06 338.4  L 311.19 212.47  L 311.22 214.37  L 311.38 285.9  L 311.4 277.09  L 311.58 216.97  L 311.65 208.85  L 311.76 215.74  L 312 338.4  L 312.07 259.74  L 312.11 286.11  L 312.14 338.4  L 312.36 199.51  L 312.45 225.61  L 312.49 215.42  L 312.53 211.17  L 312.6 338.4  L 312.69 210.93  L 312.77 228.66  L 312.84 212.92  L 312.86 217.81  L 312.91 323.56  L 312.97 215.09  L 313.02 263.22  L 313.04 338.4  L 313.12 220.04  L 313.19 334.57  L 313.21 262.6  L 313.25 228.93  L 313.32 338.4  L 313.41 227.27  L 313.52 305.65  L 313.56 260.43  L 313.58 250.15  L 313.75 338.4  L 313.84 231.92  L 313.91 338.4  L 313.93 296.93  L 313.99 228.6  L 314.08 338.4  L 314.14 286.14  L 314.29 338.4  L 314.48 224.76  L 314.57 338.4  L 314.63 282.31  L 314.78 229.69  L 314.97 338.4  L 314.99 320.63  L 315.08 213.09  L 315.18 303.47  L 315.2 267.37  L 315.25 218.92  L 315.35 338.4  L 315.37 303.4  L 315.44 224.79  L 315.56 338.4  L 315.77 234.38  L 315.86 338.4  L 315.9 292  L 316 338.4  L 316.09 221.9  L 316.19 338.4  L 316.27 310.4  L 316.38 204.45  L 316.44 212.8  L 316.52 313.55  L 316.64 204.54  L 316.73 239.99  L 316.79 222.81  L 316.81 223.32  L 316.91 272.43  L 316.99 225.61  L 317.05 288.24  L 317.12 220.17  L 317.16 235.67  L 317.26 213.51  L 317.36 305.27  L 317.57 208.94  L 317.67 338.4  L 317.71 250.53  L 317.75 214.38  L 317.95 338.4  L 318.13 206.75  L 318.21 303.29  L 318.25 218.4  L 318.29 207.6  L 318.37 221.96  L 318.41 213.04  L 318.43 211.26  L 318.49 264.13  L 318.51 202.75  L 318.79 202.75  L 318.95 245.2  L 318.99 304.49  L 319.09 249.06  L 319.15 259.14  L 319.21 252.87  L 319.33 338.4  L 319.51 244.8  L 319.59 255.67  L 319.75 218.39  L 319.89 338.4  L 320.12 226.22  L 320.41 338.4  L 320.57 226.93  L 320.59 227.81  L 320.69 311.46  L 320.75 271.46  L 320.8 261.67  L 320.9 306.84  L 320.94 294.35  L 321.11 211.68  L 321.13 211.77  L 321.29 330.29  L 321.31 327.56  L 321.44 251.08  L 321.48 267.1  L 321.5 294.41  L 321.6 256.43  L 321.67 338.4  L 321.75 220.38  L 321.85 334.1  L 321.92 243.57  L 322 338.4  L 322.02 300.43  L 322.21 202.32  L 322.4 202.32  L 322.46 338.4  L 322.55 327.02  L 322.63 222.82  L 322.93 338.4  L 323.12 215.57  L 323.18 218.56  L 323.27 217.42  L 323.33 220.07  L 323.48 202.44  L 323.59 338.14  L 323.68 205.34  L 323.81 338.4  L 323.83 325.99  L 323.94 224.74  L 324.02 304.11  L 324.24 208.77  L 324.3 300.44  L 324.35 215.61  L 324.41 199.32  L 324.52 271.41  L 324.54 266.88  L 324.61 227.66  L 324.69 304.32  L 324.72 250.63  L 324.8 200.2  L 324.91 295.45  L 325.06 214.11  L 325.09 215.56  L 325.17 275.26  L 325.26 222.95  L 325.37 336.07  L 325.46 204.93  L 325.5 209.61  L 325.59 190.91  L 325.64 192.12  L 325.72 268.05  L 325.79 226.88  L 325.81 260.06  L 325.86 338.4  L 325.99 210.99  L 326.08 286.92  L 326.17 200.68  L 326.26 279.6  L 326.35 193.38  L 326.46 315.12  L 326.55 221.25  L 326.75 297.72  L 326.88 189.33  L 327.06 319.95  L 327.36 198.3  L 327.43 223.98  L 327.47 291.93  L 327.65 202.01  L 327.74 255.92  L 327.79 230.15  L 327.95 195.84  L 328.15 195.84  L 328.22 338.4  L 328.34 213.21  L 328.41 245.46  L 328.52 163.8  L 328.68 163.8  L 328.84 242.6  L 328.87 232.47  L 328.94 211.32  L 329.05 244.89  L 329.08 130.18  L 329.4 130.18  L 329.45 247.41  L 329.59 203.72  L 329.71 325.3  L 329.78 163.8  L 329.96 163.8  L 330.13 214.35  L 330.32 236.57  L 330.41 338.4  L 330.55 206.88  L 330.67 216.09  L 330.79 338.4  L 330.96 219.56  L 331 222.15  L 331.1 338.4  L 331.2 225.93  L 331.22 239.39  L 331.27 338.4  L 331.43 215.43  L 331.55 231.18  L 331.63 338.4  L 331.72 214.48  L 331.75 214.65  L 331.84 286.62  L 331.92 236.6  L 331.94 259.94  L 331.96 322.5  L 332.09 213.09  L 332.11 217.14  L 332.18 338.4  L 332.28 217.9  L 332.3 220.32  L 332.38 269.9  L 332.47 191.52  L 332.82 191.52  L 332.84 292.19  L 333.09 217.75  L 333.16 225.59  L 333.21 239.86  L 333.36 217.57  L 333.38 219.52  L 333.55 338.4  L 333.68 219.21  L 333.73 239.95  L 333.78 338.4  L 333.88 214.81  L 333.98 222.6  L 334.08 215.34  L 334.1 216.46  L 334.27 226.63  L 334.35 338.4  L 334.45 220.85  L 334.55 244.95  L 334.6 232.98  L 334.63 195.55  L 334.98 195.55  L 335 303.6  L 335.36 222.48  L 335.56 338.4  L 335.71 287.72  L 335.82 338.4  L 335.99 216.34  L 336.07 227.5  L 336.1 231.62  L 336.2 213.71  L 336.23 217.73  L 336.25 232.41  L 336.3 330.74  L 336.38 216.68  L 336.43 222.65  L 336.48 337.27  L 336.59 242.35  L 336.64 277.86  L 336.85 211.72  L 336.95 246.04  L 336.97 318.05  L 337.16 192.96  L 337.34 192.96  L 337.52 338.4  L 337.57 337.07  L 337.68 338.4  L 337.78 237.39  L 337.84 255.28  L 337.89 328.35  L 338.02 210.57  L 338.05 211.04  L 338.15 297.23  L 338.21 251.45  L 338.26 230.21  L 338.5 306.84  L 338.6 250.85  L 338.74 338.4  L 338.76 320.42  L 338.9 219.83  L 338.95 225.86  L 339.03 338.4  L 339.22 224.91  L 339.33 338.4  L 339.51 213.3  L 339.65 278.5  L 339.68 186.48  L 340 186.48  L 340.08 310.03  L 340.22 215.57  L 340.41 338.4  L 340.57 222.77  L 340.65 338.4  L 340.76 233.77  L 340.87 314.44  L 340.9 277.74  L 341.04 207.97  L 341.09 208.59  L 341.12 208.51  L 341.18 205.46  L 341.26 217.34  L 341.31 338.4  L 341.4 216.8  L 341.45 224.37  L 341.51 278.85  L 341.59 218.74  L 341.65 248.34  L 341.7 338.4  L 341.76 246.03  L 341.81 280.31  L 341.84 338.4  L 341.95 235.93  L 342.01 284.38  L 342.04 300.82  L 342.12 243.16  L 342.2 244.02  L 342.32 210.23  L 342.37 216.02  L 342.57 336.08  L 342.71 265.2  L 342.74 265.82  L 342.82 338.4  L 342.88 310.96  L 342.91 291.55  L 342.99 338.4  L 343.11 278.42  L 343.16 338.4  L 343.3 224.61  L 343.36 231.9  L 343.42 225.42  L 343.5 212.54  L 343.62 233.08  L 343.7 330.78  L 343.93 224.62  L 343.99 233.03  L 344.05 278.56  L 344.19 216.55  L 344.34 244.21  L 344.39 338.4  L 344.51 237.41  L 344.54 240.57  L 344.65 336.22  L 344.71 333.53  L 344.89 218.84  L 345 245.22  L 345.03 230.48  L 345.12 218.49  L 345.26 331.27  L 345.35 250.42  L 345.41 283.56  L 345.47 334.99  L 345.56 272.7  L 345.62 293.34  L 345.65 299.51  L 345.73 269.97  L 345.76 280.75  L 345.82 338.4  L 345.91 274.09  L 345.97 299.63  L 346 338.4  L 346.3 221.87  L 346.33 223.38  L 346.41 311.56  L 346.47 271.18  L 346.53 246.1  L 346.68 338.4  L 346.86 222.18  L 346.98 330.69  L 347.01 310.06  L 347.04 265.68  L 347.19 220.28  L 347.22 220.98  L 347.4 227.14  L 347.58 314.83  L 347.77 204.58  L 347.92 333.84  L 347.95 291.86  L 348.07 203.28  L 348.13 209.48  L 348.22 338.4  L 348.34 219.14  L 348.68 338.4  L 348.83 337.12  L 348.99 248.38  L 349.02 254.23  L 349.05 266.6  L 349.24 202.54  L 349.36 314.93  L 349.39 274.92  L 349.51 207.03  L 349.58 214.78  L 349.61 218.4  L 349.73 213.78  L 349.76 215.17  L 349.95 274.14  L 350.08 222.42  L 350.11 223.03  L 350.26 338.4  L 350.39 213.54  L 350.45 218.45  L 350.52 294.82  L 350.67 205.71  L 350.8 259.64  L 350.83 247.92  L 350.9 221.21  L 351.05 338.4  L 351.15 286.76  L 351.18 284.08  L 351.34 338.4  L 351.53 266.96  L 351.56 268.8  L 351.66 325.84  L 351.69 307.58  L 351.79 238.92  L 351.92 330.47  L 352.05 265.21  L 352.08 277.43  L 352.24 338.4  L 352.27 338.4  L 352.6 234.14  L 352.63 233.38  L 352.89 218.03  L 352.99 221.02  L 353.18 338.4  L 353.48 227.5  L 353.54 235.37  L 353.68 338.4  L 353.71 298.7  L 353.81 231.06  L 353.87 251.25  L 353.94 338.4  L 354.11 213.19  L 354.24 304.15  L 354.27 290.57  L 354.34 230.43  L 354.4 246.96  L 354.47 296.33  L 354.61 214.45  L 354.74 338.4  L 354.77 289.6  L 354.87 228.2  L 354.94 254.58  L 354.97 246.07  L 355.11 209.33  L 355.14 210.41  L 355.31 311.99  L 355.34 283.23  L 355.48 250.37  L 355.51 198.72  L 355.85 198.72  L 356.02 308.92  L 356.19 338.4  L 356.4 214.34  L 356.43 216.14  L 356.64 315.95  L 356.78 262.87  L 356.88 281.17  L 356.92 276  L 357.12 200.07  L 357.23 193.34  L 357.33 208.73  L 357.51 338.4  L 357.71 207.84  L 357.82 219.47  L 357.92 338.4  L 358.1 215.31  L 358.17 217.94  L 358.21 217.08  L 358.31 210.26  L 358.35 212.28  L 358.38 218.02  L 358.49 338.4  L 358.74 217.4  L 358.81 210.3  L 358.91 223.52  L 359.02 288.81  L 359.09 276.67  L 359.31 210.34  L 359.48 196.91  L 359.63 226.88  L 359.66 272.27  L 359.88 202.39  L 360.02 215.02  L 360.24 313.83  L 360.46 218.42  L 360.57 252.48  L 360.75 213.13  L 361.08 338.4  L 361.12 338.4  L 361.23 319.65  L 361.41 220.29  L 361.45 220.31  L 361.63 338.4  L 361.78 338.4  L 362 217.71  L 362.15 316.5  L 362.19 287.62  L 362.3 232.57  L 362.34 245.08  L 362.41 338.4  L 362.49 299.84  L 362.52 275.26  L 362.67 338.4  L 362.82 217.25  L 362.86 218  L 362.9 221.09  L 363.09 292.83  L 363.31 205.6  L 363.43 211.77  L 363.62 222.57  L 363.92 291.71  L 363.96 283.57  L 364.15 199.87  L 364.5 199.87  L 364.58 273.47  L 364.69 233.2  L 364.88 287.69  L 364.96 338.4  L 365.16 236  L 365.19 242.54  L 365.23 248.75  L 365.43 208.88  L 365.55 234.14  L 365.74 338.4  L 365.78 338.4  L 366.09 202  L 366.13 202.63  L 366.33 272  L 366.45 230.25  L 366.49 230.36  L 366.69 207.56  L 366.81 238.22  L 366.89 319.4  L 367.01 226.54  L 367.05 230.51  L 367.17 296.29  L 367.21 266.72  L 367.41 230.02  L 367.61 206.59  L 368.13 230.76  L 368.3 338.4  L 368.5 240.57  L 368.83 217.56  L 368.99 266.89  L 369.07 338.4  L 369.2 263.67  L 369.32 338.4  L 369.36 314.07  L 369.53 217.62  L 369.57 219.02  L 369.69 233.34  L 369.73 229.52  L 369.82 221.06  L 369.9 228.58  L 370.02 338.4  L 370.07 291.27  L 370.15 252.51  L 370.28 303.62  L 370.4 242.77  L 370.44 244.38  L 370.65 338.4  L 370.95 208.04  L 370.99 209.86  L 371.16 284.69  L 371.33 221.71  L 371.37 226.87  L 371.54 327.26  L 371.58 314.9  L 371.71 338.4  L 371.88 242.86  L 372.01 289.44  L 372.05 284  L 372.14 260.72  L 372.27 338.4  L 372.48 230.84  L 372.61 262.3  L 372.74 319.29  L 372.79 305.77  L 372.92 239.37  L 372.96 239.42  L 373.14 338.4  L 373.18 326.78  L 373.35 218.81  L 373.48 205.98  L 373.53 209.33  L 373.7 302.57  L 373.84 225.3  L 373.88 225.82  L 374.14 198.76  L 374.19 199.55  L 374.41 214.62  L 374.54 236.87  L 374.63 338.4  L 374.81 210.97  L 374.9 221.33  L 374.99 310.35  L 375.17 208.72  L 375.26 224.56  L 375.3 192.24  L 375.62 192.24  L 375.84 338.4  L 376.07 238.85  L 376.21 256.07  L 376.39 158.11  L 376.71 158.11  L 376.85 220.46  L 376.89 214.49  L 376.99 209.78  L 377.08 231.09  L 377.17 338.4  L 377.36 214.01  L 377.49 338.4  L 377.77 161.88  L 377.82 130.61  L 378.15 130.61  L 378.43 292.46  L 378.62 197.18  L 378.81 216.26  L 379.04 167.26  L 379.23 167.26  L 379.33 204.47  L 379.52 192.49  L 379.66 207.97  L 379.8 310.97  L 380 202.32  L 380.33 202.32  L 380.38 230.09  L 380.58 212.23  L 380.72 218.46  L 380.92 259.64  L 381.01 338.4  L 381.06 306.99  L 381.26 202.96  L 381.36 198.2  L 381.4 199.73  L 381.6 216.98  L 381.8 203.09  L 381.95 217.33  L 382.29 338.4  L 382.34 319.76  L 382.54 205.58  L 382.69 197.69  L 382.89 210.3  L 383.04 223.35  L 383.19 251.12  L 383.39 211.69  L 383.44 213.48  L 383.6 260.85  L 383.75 223.29  L 383.8 225.48  L 383.95 338.4  L 384.21 209.27  L 384.26 209.44  L 384.46 220.5  L 384.67 193.68  L 384.87 193.68  L 385.13 338.4  L 385.18 324.23  L 385.39 223.72  L 385.44 222.18  L 385.55 232.22  L 385.65 327.74  L 385.7 297.59  L 385.86 220.59  L 385.91 221.99  L 385.96 229.83  L 386.07 305.19  L 386.12 281.69  L 386.23 232.95  L 386.28 234.33  L 386.44 338.4  L 386.6 218.41  L 386.7 209.74  L 386.81 213.77  L 386.86 221.04  L 387.02 320.22  L 387.18 226.86  L 387.23 227.36  L 387.39 298.53  L 387.61 217.29  L 387.71 233.78  L 387.77 272.87  L 388.04 206.77  L 388.09 208.36  L 388.25 253.42  L 388.31 338.4  L 388.63 203.33  L 388.96 203.33  L 389.18 288.37  L 389.23 338.4  L 389.29 305.74  L 389.45 214.76  L 389.51 215.35  L 389.56 221.4  L 389.73 271.61  L 389.84 237.2  L 389.89 239.22  L 390.06 299.93  L 390.28 238.05  L 390.39 245.84  L 390.62 222.3  L 390.73 228.14  L 390.9 288.27  L 391.01 222.55  L 391.12 213.28  L 391.18 217.13  L 391.35 324.26  L 391.52 226.84  L 391.63 234.53  L 391.75 338.4  L 391.97 256.71  L 392.09 303.89  L 392.2 338.4  L 392.26 329.65  L 392.49 240.12  L 392.6 261.48  L 392.72 297.44  L 392.78 291.37  L 392.83 281.67  L 392.89 284.5  L 393.01 324.27  L 393.3 216.81  L 393.36 221.22  L 393.47 251.7  L 393.53 247.58  L 393.71 216.01  L 393.82 224.88  L 393.88 246  L 394 338.4  L 394.06 310.93  L 394.41 185.4  L 394.71 185.4  L 394.95 254.41  L 395.06 338.4  L 395.24 217.51  L 395.3 215.28  L 395.42 233.58  L 395.54 338.4  L 395.66 216.51  L 395.78 204.02  L 395.84 205.12  L 395.97 225.66  L 396.03 224.8  L 396.21 200.88  L 396.39 200.88  L 396.57 229.51  L 396.69 262.67  L 396.88 207.83  L 396.94 205.69  L 397.12 221.51  L 397.31 298.19  L 397.62 239.98  L 397.68 241.27  L 397.86 282.21  L 397.93 281.34  L 398.17 216.22  L 398.3 211.36  L 398.36 211.4  L 398.61 226.82  L 398.86 203.76  L 399.05 203.76  L 399.31 281.44  L 399.37 271.31  L 399.5 235.09  L 399.62 272.86  L 399.88 221.9  L 399.94 226.03  L 400.13 302.53  L 400.33 224.96  L 400.46 239.67  L 400.58 265.6  L 400.84 217.1  L 401.36 203.21  L 401.43 205.55  L 401.56 225.03  L 401.69 338.4  L 401.76 306.8  L 401.95 224.19  L 402.15 338.4  L 402.48 217.16  L 402.61 226.32  L 402.68 244.68  L 402.88 324.43  L 403.08 338.4  L 403.21 338.4  L 403.42 229.3  L 403.48 227.75  L 403.55 231.16  L 403.62 243.12  L 403.82 338.4  L 404.36 250.15  L 404.43 258.71  L 404.64 338.4  L 404.84 232.64  L 404.98 227.69  L 405.32 236  L 405.46 268.79  L 405.53 265.72  L 405.74 227.82  L 405.95 338.4  L 406.09 220.51  L 406.3 205.8  L 406.37 205.32  L 406.44 218.36  L 406.65 338.4  L 406.79 253.48  L 406.86 271.51  L 407 338.16  L 407.14 288.21  L 407.35 338.4  L 407.57 202.65  L 407.64 201.35  L 407.71 201.55  L 407.93 233.16  L 408 222.5  L 408.07 208.8  L 408.36 208.8  L 408.57 236.93  L 408.72 282.62  L 408.94 338.4  L 409.37 338.4  L 409.52 265.92  L 409.74 243.45  L 409.81 247.75  L 409.89 271.65  L 410.26 197.28  L 410.56 197.28  L 410.78 232.65  L 411.15 338.4  L 412.06 338.4  L 412.36 236.92  L 412.44 240.54  L 412.75 338.4  L 412.82 321.08  L 413.06 338.4  L 413.36 218.3  L 413.44 219.36  L 413.52 227.67  L 413.6 255.67  L 413.75 338.4  L 413.99 224.61  L 414.22 212.65  L 414.3 212.84  L 414.38 216.25  L 414.54 237.5  L 414.69 324.95  L 414.93 276.99  L 415.01 281.5  L 415.09 279.48  L 415.33 227.33  L 415.41 224.63  L 415.49 227.76  L 415.57 237.94  L 415.81 338.4  L 416.05 226.54  L 416.21 218.4  L 416.29 219.26  L 416.45 231.01  L 416.53 245.75  L 416.7 318.67  L 416.86 265.15  L 417.02 233.63  L 417.19 230.31  L 417.35 235.37  L 417.43 239.76  L 418.01 311.74  L 418.09 310.16  L 418.18 311.39  L 418.51 338.4  L 418.68 299.44  L 418.84 231.22  L 419.01 216.85  L 419.18 217.71  L 419.26 221.03  L 419.43 260.23  L 419.52 317.19  L 419.77 221.29  L 419.86 220  L 419.94 225.34  L 420.11 302.63  L 420.45 216.72  L 420.54 218.49  L 420.71 244.33  L 420.88 279.67  L 421.06 263.47  L 421.14 275.13  L 421.32 338.4  L 421.4 323.16  L 421.58 243.95  L 421.66 238.84  L 421.75 240.71  L 421.84 257.3  L 422.1 338.4  L 422.45 234.35  L 422.63 226.1  L 422.72 227.19  L 422.81 233.39  L 422.99 263.63  L 423.16 235.88  L 423.25 234.58  L 423.52 219.71  L 423.7 227.57  L 423.88 234.15  L 424.06 232.45  L 424.15 234.5  L 424.33 245.3  L 424.51 229.39  L 424.6 233.31  L 424.88 278.1  L 425.06 338.4  L 425.43 215.45  L 425.52 211.58  L 425.61 212.97  L 425.8 236.35  L 425.89 311.75  L 426.17 233.79  L 426.35 212.35  L 426.45 212.21  L 426.54 218.15  L 426.64 231.25  L 426.92 338.4  L 427.11 249.46  L 427.2 245.49  L 427.39 261.52  L 427.58 221.76  L 427.67 217.44  L 427.77 220.74  L 427.96 257.15  L 428.15 338.4  L 428.25 338.24  L 428.34 310.83  L 428.44 317.44  L 428.73 240.76  L 428.82 236.3  L 428.92 239.5  L 429.02 238.35  L 429.11 238.43  L 429.21 246.38  L 429.41 330.25  L 429.5 313.2  L 429.7 246.53  L 429.8 244.82  L 429.9 255.87  L 430.09 338.4  L 430.49 221.79  L 430.59 219.74  L 430.69 225.88  L 430.78 241.14  L 430.98 230.8  L 431.08 231.28  L 431.48 248.76  L 431.58 248.53  L 431.79 243.26  L 431.89 338.4  L 432.19 256.97  L 432.5 229.69  L 432.7 224.71  L 432.8 225.46  L 433.01 234.89  L 433.11 244.57  L 433.21 237.91  L 433.42 215.27  L 433.63 210.66  L 433.73 213.82  L 433.94 232.56  L 434.04 244.21  L 434.35 229.74  L 434.46 228.98  L 434.56 229.73  L 434.77 235.29  L 434.98 247.2  L 435.09 256.44  L 435.51 236.36  L 435.73 233.74  L 435.83 234.95  L 436.16 251.81  L 436.37 244.4  L 436.48 243.76  L 436.59 246.9  L 436.8 271.93  L 437.13 338.4  L 437.24 338.4  L 437.35 334.02  L 437.67 305.2  L 438 292.3  L 438.23 289.51  L 438.34 289.66  L 438.56 293.11  L 438.78 301.27  L 439.12 326.2  L 439.23 338.4  L 439.45 338.4  L 439.68 265.32  L 439.79 267.29  L 439.9 280.02  L 440.13 338.4  L 440.36 338.4  L 440.59 257.53  L 440.82 240.92  L 440.93 239.75  L 441.05 242.27  L 441.28 249.93  L 441.39 247.97  L 441.51 254.26  L 441.62 269.71  L 441.97 338.4  L 442.21 338.4  L 442.32 327.16  L 442.56 252.7  L 442.79 235.73  L 442.91 239.18  L 443.03 247.61  L 443.27 230.26  L 443.75 229.03  L 443.87 228.88  L 443.99 232.89  L 444.23 254.39  L 444.59 338.4  L 444.83 338.4  L 445.32 239.95  L 445.44 238.61  L 445.69 255.74  L 445.93 247.85  L 446.06 250.68  L 446.3 268.06  L 446.68 197.46  L 446.8 191.66  L 446.93 193.89  L 447.05 204.13  L 447.18 226.09  L 447.43 289.87  L 447.68 251.38  L 447.81 251.61  L 447.94 257.23  L 448.32 328.21  L 448.58 258.54  L 448.83 240.19  L 448.96 243.12  L 449.09 254.42  L 449.22 278.19  L 449.35 332.2  L 449.61 239.25  L 449.87 209.81  L 450 206.06  L 450.13 209.91  L 450.26 222.43  L 450.53 258.65  L 450.79 231.17  L 450.92 234.39  L 451.06 249.45  L 451.32 244.08  L 451.46 249.55  L 451.72 232.5  L 451.99 233.06  L 452.26 260.77  L 452.53 338.4  L 452.8 338.4  L 453.35 229.83  L 453.49 227.66  L 453.63 233.58  L 453.76 248.61  L 453.9 279.5  L 454.04 338.4  L 454.18 338.4  L 454.32 321.99  L 454.6 225.23  L 454.88 206.78  L 455.02 209.68  L 455.44 250.1  L 455.87 338.4  L 456.01 323.07  L 456.3 256.29  L 456.44 255.46  L 456.58 256.94  L 456.73 255.06  L 457.16 239.28  L 457.31 241.13  L 457.45 249.04  L 457.74 215.96  L 457.89 210.38  L 458.04 212.75  L 458.18 223.21  L 458.33 245.54  L 458.63 330.56  L 458.77 338.4  L 459.37 338.4  L 459.67 291.96  L 459.82 289.33  L 459.97 291.87  L 460.12 297.91  L 460.43 316.5  L 460.58 316.52  L 460.74 307.39  L 461.09 263.97  L 461.43 247.36  L 461.66 244.51  L 461.78 244.85  L 462.01 247.63  L 462.24 253.44  L 462.59 240.83  L 462.82 238.61  L 462.93 239.11  L 463.16 243.21  L 463.39 252  L 463.74 242.72  L 463.97 241.06  L 464.08 242.51  L 464.31 255.02  L 464.53 287.14  L 464.76 338.4  L 464.87 334.88  L 465.1 286.05  L 465.33 266.36  L 465.55 260.64  L 465.67 262.04  L 465.89 274.05  L 466.12 304.47  L 466.34 338.4  L 466.68 233.87  L 466.91 212.14  L 467.14 205.92  L 467.24 206.64  L 467.46 212.62  L 467.68 225.9  L 467.89 250.64  L 468 271.08  L 468.34 242.33  L 468.67 228.75  L 468.9 225.09  L 469.01 224.64  L 469.12 225.37  L 469.35 231.38  L 469.58 244.75  L 469.81 269.71  L 470.16 338.4  L 470.74 230.43  L 471.08 212.94  L 471.31 209.95  L 471.42 210.3  L 471.65 213.14  L 471.87 219.08  L 472.2 235.47  L 472.54 267.12  L 472.65 261.23  L 473.09 244.22  L 473.53 234.46  L 473.86 230.63  L 474.08 229.53  L 474.19 229.39  L 474.32 230.87  L 474.56 243.62  L 474.81 276.56  L 475.06 338.4  L 475.16 332.59  L 475.49 269.09  L 475.81 250.93  L 475.92 249.84  L 476.03 250.93  L 476.24 260.17  L 476.46 282.09  L 476.78 338.4  L 477.28 243.2  L 477.52 230.44  L 477.65 228.96  L 477.76 229.56  L 477.97 234.48  L 478.19 245.18  L 478.4 264.15  L 478.51 278.64  L 478.85 223.11  L 479.18 201.81  L 479.41 196.36  L 479.52 195.7  L 479.63 196.31  L 479.85 201.4  L 480.08 212.5  L 480.3 232.33  L 480.52 269.61  L 480.74 338.4  L 480.86 338.4  L 481.19 277.41  L 481.52 253.02  L 481.86 243.8  L 481.97 243.22  L 482.09 245.19  L 482.33 262.73  L 482.57 314.85  L 482.69 338.4  L 482.81 338.4  L 483.05 293.73  L 483.29 277.59  L 483.41 275.76  L 483.53 277.59  L 483.77 293.73  L 484.13 338.4  L 484.37 230.82  L 484.61 198.06  L 484.85 189.36  L 484.96 189.76  L 485.18 192.99  L 485.41 199.82  L 485.74 219.02  L 485.86 228.96  L 486.18 212.21  L 486.5 204.32  L 486.72 202.9  L 486.83 203.64  L 487.04 209.8  L 487.26 223.53  L 487.48 249.35  L 487.69 306.76  L 487.8 338.4  L 487.91 331.3  L 488.23 265.14  L 488.56 241.65  L 488.77 235.72  L 488.88 235.01  L 488.99 235.5  L 489.22 239.57  L 489.45 248.29  L 489.79 274.02  L 490.02 308.17  L 490.13 338.4  L 490.25 338.4  L 490.36 328.77  L 490.7 260.58  L 491.05 234.16  L 491.39 222.65  L 491.62 220.61  L 491.73 221.11  L 491.95 225.26  L 492.17 234.16  L 492.5 260.58  L 492.73 296.1  L 492.95 338.4  L 493.17 338.4  L 493.39 320.09  L 493.73 298.21  L 494.06 288.33  L 494.28 286.56  L 494.39 287.19  L 494.6 292.42  L 494.82 303.85  L 495.25 338.4  L 495.58 338.4  L 496.01 299.31  L 496.33 289.35  L 496.44 288.72  L 496.55 289.5  L 496.76 295.95  L 496.98 310.4  L 497.3 338.4  L 497.41 338.4  L 497.52 338.21  L 497.84 275.37  L 498.17 254.48  L 498.38 250.99  L 498.5 251.29  L 498.74 253.7  L 498.97 258.71  L 499.33 272.22  L 499.68 296.78  L 500.02 247.39  L 500.36 224.54  L 500.71 213.22  L 500.93 210.12  L 501.05 209.74  L 501.16 209.92  L 501.38 211.4  L 501.72 216.6  L 502.05 225.96  L 502.39 240.99  L 502.72 265.41  L 503.06 312.23  L 503.17 338.4  L 503.5 338.4  L 503.72 318.52  L 504.17 285.48  L 504.61 266.28  L 505.16 252.05  L 505.61 245.85  L 505.94 243.63  L 506.16 243.22  L 506.27 243.53  L 506.49 246.07  L 506.82 255.21  L 507.15 272.88  L 507.48 306.31  L 507.71 338.4  L 507.93 338.4  L 508.28 283.18  L 508.52 268.91  L 508.75 264.6  L 508.86 265  L 509.08 268.26  L 509.31 275.13  L 509.64 294.51  L 509.86 317.46  L 510.08 338.4  L 510.19 338.4  L 510.42 288.1  L 510.75 243.53  L 511.09 228.99  L 511.2 228.1  L 511.31 228.52  L 511.53 232.01  L 511.75 239.4  L 512.09 260.49  L 512.31 286.2  L 512.64 338.4  L 512.76 334.11  L 513.1 266.6  L 513.45 238.28  L 513.79 223.2  L 514.14 216.01  L 514.37 214.7  L 514.58 214.92  L 514.8 215.58  L 515.12 217.41  L 515.56 221.54  L 515.99 227.86  L 516.53 239.61  L 516.96 253.3  L 517.63 235.24  L 518.3 223.33  L 518.97 215.56  L 519.52 211.58  L 519.97 209.81  L 520.3 209.27  L 520.42 209.23  L 520.53 209.38  L 520.75 210.61  L 521.08 214.88  L 521.41 222.45  L 521.85 239.44  L 522.18 260.47  L 522.29 270.14  L 522.74 253.14  L 523.19 243.39  L 523.53 239.56  L 523.76 238.46  L 523.87 238.32  L 523.98 238.39  L 524.2 238.93  L 524.53 240.8  L 524.97 245.39  L 525.4 252.72  L 525.84 263.55  L 526.28 279.34  L 526.61 296.35  L 527.06 262.03  L 527.5 243.29  L 527.95 232.7  L 528.29 228.57  L 528.51 227.38  L 528.62 227.23  L 528.73 227.34  L 528.96 228.2  L 529.29 231.15  L 529.62 236.29  L 530.06 247.27  L 530.51 264.9  L 530.84 285.43  L 531.17 319.19  L 531.39 338.4  L 531.61 338.4  L 531.72 330.59  L 532.06 286.64  L 532.5 255.73  L 533.05 233.38  L 533.6 220.11  L 534.04 213.75  L 534.48 210.4  L 534.71 209.75  L 534.82 209.66  L 534.93 209.74  L 535.14 210.35  L 535.47 212.46  L 535.8 216.07  L 536.24 223.58  L 536.67 234.95  L 537.11 251.94  L 537.55 278.84  L 537.87 313.73  L 538.09 338.4  L 538.31 338.4  L 538.42 335.3  L 538.74 292.51  L 539.17 262.07  L 539.71 239.96  L 540.25 226.8  L 540.68 220.49  L 541.12 217.16  L 541.33 216.51  L 541.44 216.43  L 541.55 216.55  L 541.78 217.49  L 542.11 220.73  L 542.45 226.4  L 542.9 238.64  L 543.35 258.74  L 543.69 283.16  L 544.25 338.4  L 544.36 338.4  L 544.46 332.37  L 544.79 291.11  L 545.22 266.36  L 545.54 258.59  L 545.76 257.18  L 545.87 257.31  L 546.09 258.36  L 546.42 261.97  L 546.75 268.31  L 547.18 282.18  L 547.62 305.68  L 548.06 338.4  L 548.73 338.4  L 549.18 312.13  L 549.63 299.38  L 549.97 295.73  L 550.08 295.49  L 550.19 295.58  L 550.41 296.3  L 550.74 298.79  L 551.08 303.09  L 551.52 312.13  L 551.96 326.16  L 552.3 338.4  L 553.18 338.4  L 553.28 337.58  L 553.72 299.72  L 554.26 274.16  L 554.8 259.41  L 555.23 252.43  L 555.66 248.77  L 555.88 248.06  L 556.1 248  L 556.32 248.23  L 556.66 249.01  L 557.1 250.88  L 557.55 253.77  L 558 257.76  L 558.76 242.32  L 559.52 231.34  L 560.28 223.47  L 560.94 218.66  L 561.59 215.38  L 562.13 213.69  L 562.57 212.99  L 562.9 212.83  L 563.12 212.95  L 563.45 213.59  L 563.78 214.79  L 564.22 217.31  L 564.77 222.04  L 565.32 228.82  L 565.87 238.15  L 566.42 250.91  L 566.64 257.33  L 567.29 251.01  L 567.83 247.83  L 568.26 246.53  L 568.58 246.24  L 568.81 246.36  L 569.14 247.01  L 569.47 248.23  L 569.92 250.77  L 570.47 255.57  L 571.03 262.46  L 571.25 265.9  L 572.01 255.08  L 572.67 248.64  L 573.32 244.31  L 573.87 242.1  L 574.3 241.19  L 574.63 240.98  L 574.92 241.77  L 575.35 244.23  L 575.93 249.18  L 577.94 277.02  L 578.38 285.87  L 579.38 312.78  L 579.53 315.74  L 579.67 338.4  L 579.82 338.4  L 579.96 317.55  L 580.25 313.07  L 581.26 306.25  L 581.83 304.64  L 582.26 303.94  L 582.55 303.87  L 582.84 304.54  L 583.27 306.74  L 583.7 310.07  L 583.99 314.14  L 584.28 321.07  L 584.57 338.4  L 586.01 338.4  L 586.15 332.92  L 586.44 315.68  L 586.87 302.03  L 587.3 295.4  L 587.88 289.84  L 588.17 288.36  L 588.31 288.04  L 588.46 288.05  L 588.6 288.42  L 588.89 290.14  L 589.32 294.48  L 589.75 300.2  L 590.04 306.27  L 590.33 315.58  L 590.47 323.39  L 590.62 338.4  L 591.62 338.4  L 592.06 307.07  L 593.21 263.88  L 593.64 252.39  L 594.65 234.71  L 595.37 224.6  L 596.09 219.01  L 596.52 217.42  L 596.95 216.57  L 597.24 216.45  L 597.53 216.89  L 597.96 218.25  L 598.25 219.67  L 598.68 223.56  L 599.69 235.66  L 600.98 254.95  L 602.28 273.86  L 603 281.47  L 603.29 283.82  L 603.43 283.85  L 603.72 281.93  L 605.16 271.41  L 606.02 266.82  L 606.46 265.4  L 607.03 264.47  L 607.75 263.79  L 608.9 263  L 609.34 262.02  L 609.77 260.56  L 610.34 257.51  L 610.78 253.99  L 611.93 240.98  L 613.22 225.57  L 613.8 221.64  L 614.52 218.05  L 614.95 216.96  L 615.53 216.18  L 615.82 216.01  L 616.1 216.11  L 616.39 216.55  L 616.97 218.03  L 617.26 219.52  L 617.83 224.43  L 619.42 241.31  L 620.14 251.64  L 620.57 261.32  L 621.29 277.88  L 621.72 284.55  L 621.86 286.02  L 622.01 286.03  L 622.3 282.74  L 622.73 274.39  L 625.32 217.24  L 625.9 210.07  L 626.76 202.23  L 627.34 198.89  L 628.06 196.61  L 628.63 195.29  L 629.06 194.76  L 629.35 194.7  L 629.64 194.88  L 630.07 195.56  L 630.65 197.02  L 631.22 198.9  L 631.66 201.33  L 632.23 206.01  L 633.24 216.46  L 633.96 226.56  L 634.97 244.21  L 635.83 262.54  L 636.55 283.1  L 636.98 298.22  L 637.27 313.54  L 637.56 338.4  L 638.14 338.4  L 638.71 299.71  L 639.14 285.66  L 640.01 266.95  L 640.73 255.9  L 641.59 246.38  L 642.17 241.83  L 642.6 240.12  L 643.18 238.56  L 643.46 238.14  L 643.75 238.04  L 644.04 238.31  L 644.47 239.25  L 645.05 241.12  L 645.34 242.82  L 645.91 248.03  L 647.64 266.45  L 648.07 273.54  L 648.5 285.26  L 649.37 314.95  L 649.8 338.4  L 650.66 338.4  L 651.1 307.09  L 651.96 274.27  L 652.39 263.88  L 653.4 245.55  L 653.98 232.88  L 654.7 223.96  L 657.29 198.48  L 658.44 189.46  L 659.3 184.39  L 660.46 178.72  L 661.46 174.75  L 662.33 172.16  L 663.48 169.34  L 664.63 167.08  L 665.78 165.29  L 667.37 163.22  L 668.23 162.39  L 668.95 161.97  L 670.82 161.29  L 672.12 161.03  L 673.27 161.02  L 674.42 161.24  L 676.01 161.8  L 677.45 162.5  L 678.46 163.32  L 679.61 164.58  L 680.76 166.14  L 681.62 167.76  L 682.63 170.16  L 683.93 173.81  L 684.94 177.29  L 686.09 182.07  L 687.38 188.33  L 688.39 194.51  L 691.27 213.96  L 692.28 223.1  L 693.29 234.51  L 694.44 250.92  L 695.3 266.09  L 695.74 276.48  L 696.17 295.2  L 696.6 325.16  L 696.74 338.4  L 697.9 338.4  L 698.33 304.99  L 698.76 288.32  L 699.19 279.97  L 699.62 276.23  L 699.77 275.31  L 699.77 275.31 
" clip-path="url(#pcf3aa3bda9)" style="fill: none; stroke: #000000; stroke-width: 1.1; stroke-linecap: square"/>
   </g>
   <g id="patch_3">
    <path d="M 56.52 318.6  L 56.52 27 
" style="fill: none; stroke: #000000; stroke-width: 0.8; stroke-linejoin: miter; stroke-linecap: square"/>
   </g>
   <g id="patch_4">
    <path d="M 700.2 318.6  L 700.2 27 
" style="fill: none; stroke: #000000; stroke-width: 0.8; stroke-linejoin: miter; stroke-linecap: square"/>
   </g>
   <g id="patch_5">
    <path d="M 56.52 318.6  L 700.2 318.6 
" style="fill: none; stroke: #000000; stroke-width: 0.8; stroke-linejoin: miter; stroke-linecap: square"/>
   </g>
   <g id="patch_6">
    <path d="M 56.52 27  L 700.2 27 
" style="fill: none; stroke: #000000; stroke-width: 0.8; stroke-linejoin: miter; stroke-linecap: square"/>
   </g>
   <g id="text_13">
    <text style="font-size: 12px; font-family: 'DejaVu Sans', 'Liberation Sans', sans-serif; text-anchor: middle" x="377.82" y="20.712">Generalised Lomb-Scargle periodogram of ASCC 1425830</text>
   </g>
  </g>
 </g>
 <defs>
  <clipPath id="pcf3aa3bda9">
   <rect x="55.98" y="26.712" width="643.68" height="291.6"/>
  </clipPath>
 </defs>
</svg>

</body></html>
